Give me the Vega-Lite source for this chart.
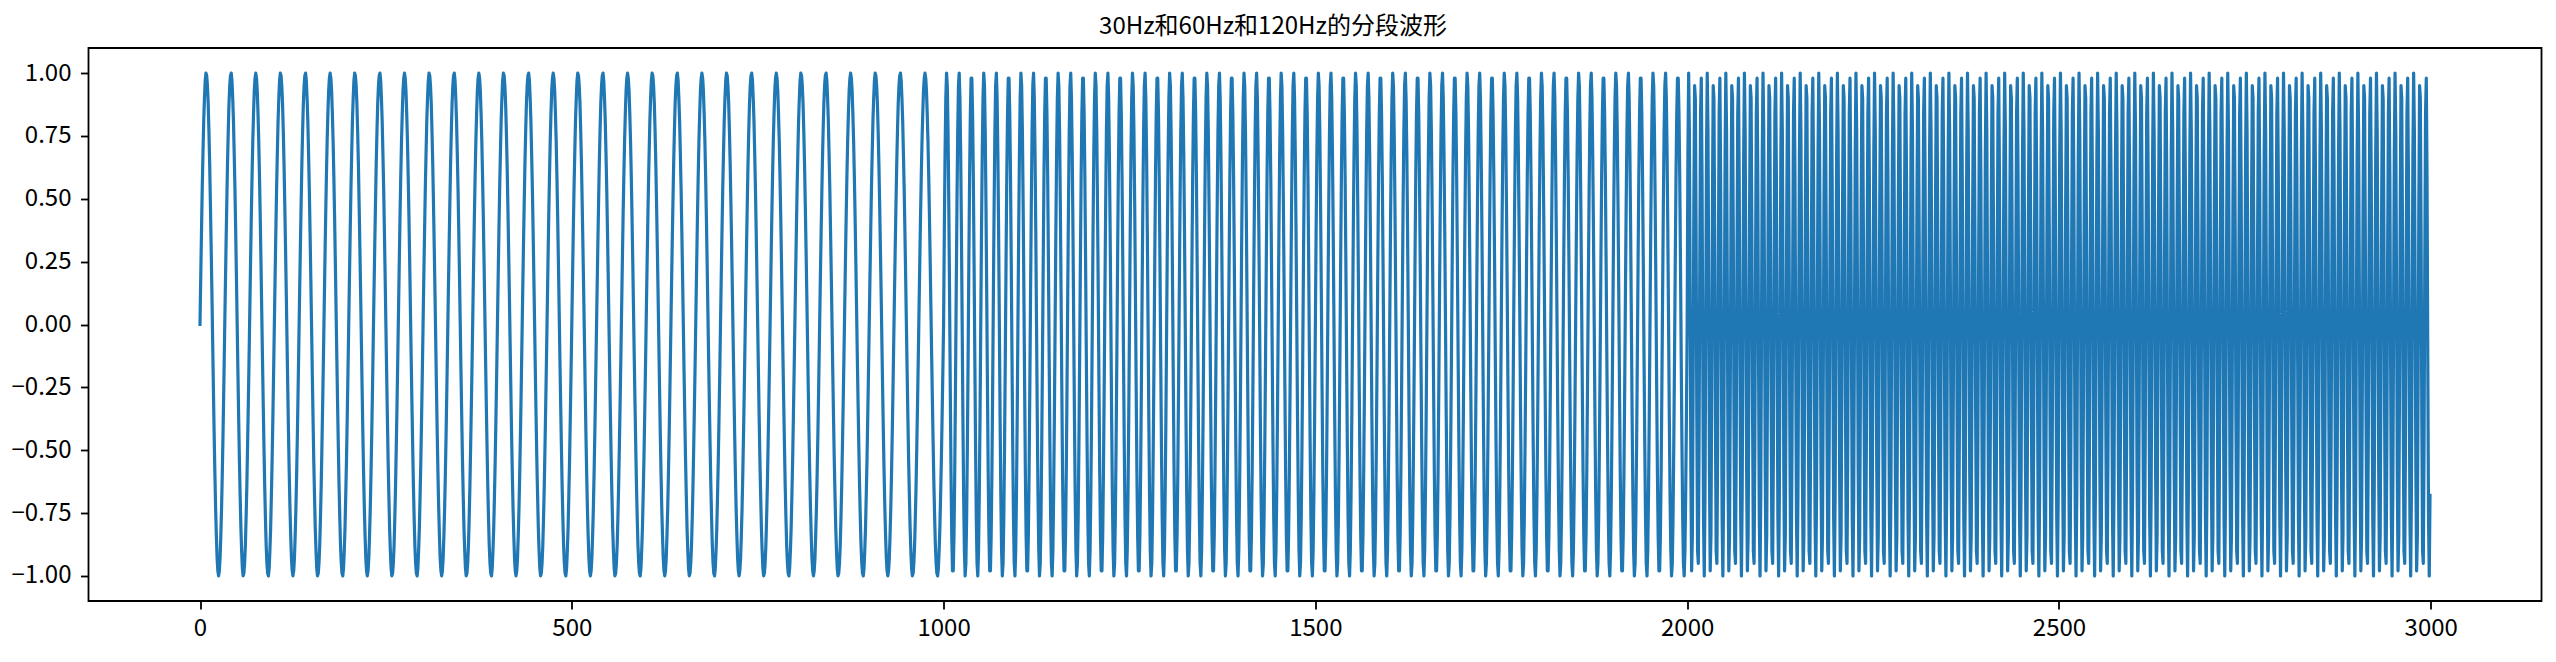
{"$schema":"https://vega.github.io/schema/vega-lite/v6.json","autosize":"none","width":2453,"height":553,"padding":{"left":88.5,"top":48,"right":14.5,"bottom":61},"background":"white","config":{"view":{"stroke":"#000","strokeWidth":1.8},"font":"Noto Sans CJK SC"},"title":{"text":"30Hz和60Hz和120Hz的分段波形","font":"Noto Sans CJK SC","fontSize":24,"fontWeight":"normal","color":"#000","anchor":"middle","frame":"group","baseline":"alphabetic","offset":-10,"dx":-42},"data":{"values":[
{"x":0,"y":0},{"x":1,"y":0.19},{"x":2,"y":0.37},{"x":3,"y":0.54},{"x":4,"y":0.68},{"x":5,"y":0.81},{"x":6,"y":0.9},{"x":7,"y":0.97},{"x":8,"y":1},{"x":9,"y":0.99},{"x":10,"y":0.95},{"x":11,"y":0.88},{"x":12,"y":0.77},{"x":13,"y":0.64},{"x":14,"y":0.48},{"x":15,"y":0.31},{"x":16,"y":0.13},{"x":17,"y":-0.06},{"x":18,"y":-0.25},{"x":19,"y":-0.43},{"x":20,"y":-0.59},{"x":21,"y":-0.73},{"x":22,"y":-0.84},{"x":23,"y":-0.93},{"x":24,"y":-0.98},{"x":25,"y":-1},{"x":26,"y":-0.98},{"x":27,"y":-0.93},{"x":28,"y":-0.84},{"x":29,"y":-0.73},{"x":30,"y":-0.59},{"x":31,"y":-0.43},{"x":32,"y":-0.25},{"x":33,"y":-0.06},{"x":34,"y":0.13},{"x":35,"y":0.31},{"x":36,"y":0.48},{"x":37,"y":0.64},{"x":38,"y":0.77},{"x":39,"y":0.88},{"x":40,"y":0.95},{"x":41,"y":0.99},{"x":42,"y":1},{"x":43,"y":0.97},{"x":44,"y":0.9},{"x":45,"y":0.81},{"x":46,"y":0.68},{"x":47,"y":0.54},{"x":48,"y":0.37},{"x":49,"y":0.19},{"x":50,"y":0},{"x":51,"y":-0.19},{"x":52,"y":-0.37},{"x":53,"y":-0.54},{"x":54,"y":-0.68},{"x":55,"y":-0.81},{"x":56,"y":-0.9},{"x":57,"y":-0.97},{"x":58,"y":-1},{"x":59,"y":-0.99},{"x":60,"y":-0.95},{"x":61,"y":-0.88},{"x":62,"y":-0.77},{"x":63,"y":-0.64},{"x":64,"y":-0.48},{"x":65,"y":-0.31},{"x":66,"y":-0.13},{"x":67,"y":0.06},{"x":68,"y":0.25},{"x":69,"y":0.43},{"x":70,"y":0.59},{"x":71,"y":0.73},{"x":72,"y":0.84},{"x":73,"y":0.93},{"x":74,"y":0.98},{"x":75,"y":1},{"x":76,"y":0.98},{"x":77,"y":0.93},{"x":78,"y":0.84},{"x":79,"y":0.73},{"x":80,"y":0.59},{"x":81,"y":0.43},{"x":82,"y":0.25},{"x":83,"y":0.06},{"x":84,"y":-0.13},{"x":85,"y":-0.31},{"x":86,"y":-0.48},{"x":87,"y":-0.64},{"x":88,"y":-0.77},{"x":89,"y":-0.88},{"x":90,"y":-0.95},{"x":91,"y":-0.99},{"x":92,"y":-1},{"x":93,"y":-0.97},{"x":94,"y":-0.9},{"x":95,"y":-0.81},{"x":96,"y":-0.68},{"x":97,"y":-0.54},{"x":98,"y":-0.37},{"x":99,"y":-0.19},
{"x":100,"y":0},{"x":101,"y":0.19},{"x":102,"y":0.37},{"x":103,"y":0.54},{"x":104,"y":0.68},{"x":105,"y":0.81},{"x":106,"y":0.9},{"x":107,"y":0.97},{"x":108,"y":1},{"x":109,"y":0.99},{"x":110,"y":0.95},{"x":111,"y":0.88},{"x":112,"y":0.77},{"x":113,"y":0.64},{"x":114,"y":0.48},{"x":115,"y":0.31},{"x":116,"y":0.13},{"x":117,"y":-0.06},{"x":118,"y":-0.25},{"x":119,"y":-0.43},{"x":120,"y":-0.59},{"x":121,"y":-0.73},{"x":122,"y":-0.84},{"x":123,"y":-0.93},{"x":124,"y":-0.98},{"x":125,"y":-1},{"x":126,"y":-0.98},{"x":127,"y":-0.93},{"x":128,"y":-0.84},{"x":129,"y":-0.73},{"x":130,"y":-0.59},{"x":131,"y":-0.43},{"x":132,"y":-0.25},{"x":133,"y":-0.06},{"x":134,"y":0.13},{"x":135,"y":0.31},{"x":136,"y":0.48},{"x":137,"y":0.64},{"x":138,"y":0.77},{"x":139,"y":0.88},{"x":140,"y":0.95},{"x":141,"y":0.99},{"x":142,"y":1},{"x":143,"y":0.97},{"x":144,"y":0.9},{"x":145,"y":0.81},{"x":146,"y":0.68},{"x":147,"y":0.54},{"x":148,"y":0.37},{"x":149,"y":0.19},{"x":150,"y":0},{"x":151,"y":-0.19},{"x":152,"y":-0.37},{"x":153,"y":-0.54},{"x":154,"y":-0.68},{"x":155,"y":-0.81},{"x":156,"y":-0.9},{"x":157,"y":-0.97},{"x":158,"y":-1},{"x":159,"y":-0.99},{"x":160,"y":-0.95},{"x":161,"y":-0.88},{"x":162,"y":-0.77},{"x":163,"y":-0.64},{"x":164,"y":-0.48},{"x":165,"y":-0.31},{"x":166,"y":-0.13},{"x":167,"y":0.06},{"x":168,"y":0.25},{"x":169,"y":0.43},{"x":170,"y":0.59},{"x":171,"y":0.73},{"x":172,"y":0.84},{"x":173,"y":0.93},{"x":174,"y":0.98},{"x":175,"y":1},{"x":176,"y":0.98},{"x":177,"y":0.93},{"x":178,"y":0.84},{"x":179,"y":0.73},{"x":180,"y":0.59},{"x":181,"y":0.43},{"x":182,"y":0.25},{"x":183,"y":0.06},{"x":184,"y":-0.13},{"x":185,"y":-0.31},{"x":186,"y":-0.48},{"x":187,"y":-0.64},{"x":188,"y":-0.77},{"x":189,"y":-0.88},{"x":190,"y":-0.95},{"x":191,"y":-0.99},{"x":192,"y":-1},{"x":193,"y":-0.97},{"x":194,"y":-0.9},{"x":195,"y":-0.81},{"x":196,"y":-0.68},{"x":197,"y":-0.54},{"x":198,"y":-0.37},{"x":199,"y":-0.19},
{"x":200,"y":0},{"x":201,"y":0.19},{"x":202,"y":0.37},{"x":203,"y":0.54},{"x":204,"y":0.68},{"x":205,"y":0.81},{"x":206,"y":0.9},{"x":207,"y":0.97},{"x":208,"y":1},{"x":209,"y":0.99},{"x":210,"y":0.95},{"x":211,"y":0.88},{"x":212,"y":0.77},{"x":213,"y":0.64},{"x":214,"y":0.48},{"x":215,"y":0.31},{"x":216,"y":0.13},{"x":217,"y":-0.06},{"x":218,"y":-0.25},{"x":219,"y":-0.43},{"x":220,"y":-0.59},{"x":221,"y":-0.73},{"x":222,"y":-0.84},{"x":223,"y":-0.93},{"x":224,"y":-0.98},{"x":225,"y":-1},{"x":226,"y":-0.98},{"x":227,"y":-0.93},{"x":228,"y":-0.84},{"x":229,"y":-0.73},{"x":230,"y":-0.59},{"x":231,"y":-0.43},{"x":232,"y":-0.25},{"x":233,"y":-0.06},{"x":234,"y":0.13},{"x":235,"y":0.31},{"x":236,"y":0.48},{"x":237,"y":0.64},{"x":238,"y":0.77},{"x":239,"y":0.88},{"x":240,"y":0.95},{"x":241,"y":0.99},{"x":242,"y":1},{"x":243,"y":0.97},{"x":244,"y":0.9},{"x":245,"y":0.81},{"x":246,"y":0.68},{"x":247,"y":0.54},{"x":248,"y":0.37},{"x":249,"y":0.19},{"x":250,"y":0},{"x":251,"y":-0.19},{"x":252,"y":-0.37},{"x":253,"y":-0.54},{"x":254,"y":-0.68},{"x":255,"y":-0.81},{"x":256,"y":-0.9},{"x":257,"y":-0.97},{"x":258,"y":-1},{"x":259,"y":-0.99},{"x":260,"y":-0.95},{"x":261,"y":-0.88},{"x":262,"y":-0.77},{"x":263,"y":-0.64},{"x":264,"y":-0.48},{"x":265,"y":-0.31},{"x":266,"y":-0.13},{"x":267,"y":0.06},{"x":268,"y":0.25},{"x":269,"y":0.43},{"x":270,"y":0.59},{"x":271,"y":0.73},{"x":272,"y":0.84},{"x":273,"y":0.93},{"x":274,"y":0.98},{"x":275,"y":1},{"x":276,"y":0.98},{"x":277,"y":0.93},{"x":278,"y":0.84},{"x":279,"y":0.73},{"x":280,"y":0.59},{"x":281,"y":0.43},{"x":282,"y":0.25},{"x":283,"y":0.06},{"x":284,"y":-0.13},{"x":285,"y":-0.31},{"x":286,"y":-0.48},{"x":287,"y":-0.64},{"x":288,"y":-0.77},{"x":289,"y":-0.88},{"x":290,"y":-0.95},{"x":291,"y":-0.99},{"x":292,"y":-1},{"x":293,"y":-0.97},{"x":294,"y":-0.9},{"x":295,"y":-0.81},{"x":296,"y":-0.68},{"x":297,"y":-0.54},{"x":298,"y":-0.37},{"x":299,"y":-0.19},
{"x":300,"y":0},{"x":301,"y":0.19},{"x":302,"y":0.37},{"x":303,"y":0.54},{"x":304,"y":0.68},{"x":305,"y":0.81},{"x":306,"y":0.9},{"x":307,"y":0.97},{"x":308,"y":1},{"x":309,"y":0.99},{"x":310,"y":0.95},{"x":311,"y":0.88},{"x":312,"y":0.77},{"x":313,"y":0.64},{"x":314,"y":0.48},{"x":315,"y":0.31},{"x":316,"y":0.13},{"x":317,"y":-0.06},{"x":318,"y":-0.25},{"x":319,"y":-0.43},{"x":320,"y":-0.59},{"x":321,"y":-0.73},{"x":322,"y":-0.84},{"x":323,"y":-0.93},{"x":324,"y":-0.98},{"x":325,"y":-1},{"x":326,"y":-0.98},{"x":327,"y":-0.93},{"x":328,"y":-0.84},{"x":329,"y":-0.73},{"x":330,"y":-0.59},{"x":331,"y":-0.43},{"x":332,"y":-0.25},{"x":333,"y":-0.06},{"x":334,"y":0.13},{"x":335,"y":0.31},{"x":336,"y":0.48},{"x":337,"y":0.64},{"x":338,"y":0.77},{"x":339,"y":0.88},{"x":340,"y":0.95},{"x":341,"y":0.99},{"x":342,"y":1},{"x":343,"y":0.97},{"x":344,"y":0.9},{"x":345,"y":0.81},{"x":346,"y":0.68},{"x":347,"y":0.54},{"x":348,"y":0.37},{"x":349,"y":0.19},{"x":350,"y":0},{"x":351,"y":-0.19},{"x":352,"y":-0.37},{"x":353,"y":-0.54},{"x":354,"y":-0.68},{"x":355,"y":-0.81},{"x":356,"y":-0.9},{"x":357,"y":-0.97},{"x":358,"y":-1},{"x":359,"y":-0.99},{"x":360,"y":-0.95},{"x":361,"y":-0.88},{"x":362,"y":-0.77},{"x":363,"y":-0.64},{"x":364,"y":-0.48},{"x":365,"y":-0.31},{"x":366,"y":-0.13},{"x":367,"y":0.06},{"x":368,"y":0.25},{"x":369,"y":0.43},{"x":370,"y":0.59},{"x":371,"y":0.73},{"x":372,"y":0.84},{"x":373,"y":0.93},{"x":374,"y":0.98},{"x":375,"y":1},{"x":376,"y":0.98},{"x":377,"y":0.93},{"x":378,"y":0.84},{"x":379,"y":0.73},{"x":380,"y":0.59},{"x":381,"y":0.43},{"x":382,"y":0.25},{"x":383,"y":0.06},{"x":384,"y":-0.13},{"x":385,"y":-0.31},{"x":386,"y":-0.48},{"x":387,"y":-0.64},{"x":388,"y":-0.77},{"x":389,"y":-0.88},{"x":390,"y":-0.95},{"x":391,"y":-0.99},{"x":392,"y":-1},{"x":393,"y":-0.97},{"x":394,"y":-0.9},{"x":395,"y":-0.81},{"x":396,"y":-0.68},{"x":397,"y":-0.54},{"x":398,"y":-0.37},{"x":399,"y":-0.19},
{"x":400,"y":0},{"x":401,"y":0.19},{"x":402,"y":0.37},{"x":403,"y":0.54},{"x":404,"y":0.68},{"x":405,"y":0.81},{"x":406,"y":0.9},{"x":407,"y":0.97},{"x":408,"y":1},{"x":409,"y":0.99},{"x":410,"y":0.95},{"x":411,"y":0.88},{"x":412,"y":0.77},{"x":413,"y":0.64},{"x":414,"y":0.48},{"x":415,"y":0.31},{"x":416,"y":0.13},{"x":417,"y":-0.06},{"x":418,"y":-0.25},{"x":419,"y":-0.43},{"x":420,"y":-0.59},{"x":421,"y":-0.73},{"x":422,"y":-0.84},{"x":423,"y":-0.93},{"x":424,"y":-0.98},{"x":425,"y":-1},{"x":426,"y":-0.98},{"x":427,"y":-0.93},{"x":428,"y":-0.84},{"x":429,"y":-0.73},{"x":430,"y":-0.59},{"x":431,"y":-0.43},{"x":432,"y":-0.25},{"x":433,"y":-0.06},{"x":434,"y":0.13},{"x":435,"y":0.31},{"x":436,"y":0.48},{"x":437,"y":0.64},{"x":438,"y":0.77},{"x":439,"y":0.88},{"x":440,"y":0.95},{"x":441,"y":0.99},{"x":442,"y":1},{"x":443,"y":0.97},{"x":444,"y":0.9},{"x":445,"y":0.81},{"x":446,"y":0.68},{"x":447,"y":0.54},{"x":448,"y":0.37},{"x":449,"y":0.19},{"x":450,"y":0},{"x":451,"y":-0.19},{"x":452,"y":-0.37},{"x":453,"y":-0.54},{"x":454,"y":-0.68},{"x":455,"y":-0.81},{"x":456,"y":-0.9},{"x":457,"y":-0.97},{"x":458,"y":-1},{"x":459,"y":-0.99},{"x":460,"y":-0.95},{"x":461,"y":-0.88},{"x":462,"y":-0.77},{"x":463,"y":-0.64},{"x":464,"y":-0.48},{"x":465,"y":-0.31},{"x":466,"y":-0.13},{"x":467,"y":0.06},{"x":468,"y":0.25},{"x":469,"y":0.43},{"x":470,"y":0.59},{"x":471,"y":0.73},{"x":472,"y":0.84},{"x":473,"y":0.93},{"x":474,"y":0.98},{"x":475,"y":1},{"x":476,"y":0.98},{"x":477,"y":0.93},{"x":478,"y":0.84},{"x":479,"y":0.73},{"x":480,"y":0.59},{"x":481,"y":0.43},{"x":482,"y":0.25},{"x":483,"y":0.06},{"x":484,"y":-0.13},{"x":485,"y":-0.31},{"x":486,"y":-0.48},{"x":487,"y":-0.64},{"x":488,"y":-0.77},{"x":489,"y":-0.88},{"x":490,"y":-0.95},{"x":491,"y":-0.99},{"x":492,"y":-1},{"x":493,"y":-0.97},{"x":494,"y":-0.9},{"x":495,"y":-0.81},{"x":496,"y":-0.68},{"x":497,"y":-0.54},{"x":498,"y":-0.37},{"x":499,"y":-0.19},
{"x":500,"y":0},{"x":501,"y":0.19},{"x":502,"y":0.37},{"x":503,"y":0.54},{"x":504,"y":0.68},{"x":505,"y":0.81},{"x":506,"y":0.9},{"x":507,"y":0.97},{"x":508,"y":1},{"x":509,"y":0.99},{"x":510,"y":0.95},{"x":511,"y":0.88},{"x":512,"y":0.77},{"x":513,"y":0.64},{"x":514,"y":0.48},{"x":515,"y":0.31},{"x":516,"y":0.13},{"x":517,"y":-0.06},{"x":518,"y":-0.25},{"x":519,"y":-0.43},{"x":520,"y":-0.59},{"x":521,"y":-0.73},{"x":522,"y":-0.84},{"x":523,"y":-0.93},{"x":524,"y":-0.98},{"x":525,"y":-1},{"x":526,"y":-0.98},{"x":527,"y":-0.93},{"x":528,"y":-0.84},{"x":529,"y":-0.73},{"x":530,"y":-0.59},{"x":531,"y":-0.43},{"x":532,"y":-0.25},{"x":533,"y":-0.06},{"x":534,"y":0.13},{"x":535,"y":0.31},{"x":536,"y":0.48},{"x":537,"y":0.64},{"x":538,"y":0.77},{"x":539,"y":0.88},{"x":540,"y":0.95},{"x":541,"y":0.99},{"x":542,"y":1},{"x":543,"y":0.97},{"x":544,"y":0.9},{"x":545,"y":0.81},{"x":546,"y":0.68},{"x":547,"y":0.54},{"x":548,"y":0.37},{"x":549,"y":0.19},{"x":550,"y":0},{"x":551,"y":-0.19},{"x":552,"y":-0.37},{"x":553,"y":-0.54},{"x":554,"y":-0.68},{"x":555,"y":-0.81},{"x":556,"y":-0.9},{"x":557,"y":-0.97},{"x":558,"y":-1},{"x":559,"y":-0.99},{"x":560,"y":-0.95},{"x":561,"y":-0.88},{"x":562,"y":-0.77},{"x":563,"y":-0.64},{"x":564,"y":-0.48},{"x":565,"y":-0.31},{"x":566,"y":-0.13},{"x":567,"y":0.06},{"x":568,"y":0.25},{"x":569,"y":0.43},{"x":570,"y":0.59},{"x":571,"y":0.73},{"x":572,"y":0.84},{"x":573,"y":0.93},{"x":574,"y":0.98},{"x":575,"y":1},{"x":576,"y":0.98},{"x":577,"y":0.93},{"x":578,"y":0.84},{"x":579,"y":0.73},{"x":580,"y":0.59},{"x":581,"y":0.43},{"x":582,"y":0.25},{"x":583,"y":0.06},{"x":584,"y":-0.13},{"x":585,"y":-0.31},{"x":586,"y":-0.48},{"x":587,"y":-0.64},{"x":588,"y":-0.77},{"x":589,"y":-0.88},{"x":590,"y":-0.95},{"x":591,"y":-0.99},{"x":592,"y":-1},{"x":593,"y":-0.97},{"x":594,"y":-0.9},{"x":595,"y":-0.81},{"x":596,"y":-0.68},{"x":597,"y":-0.54},{"x":598,"y":-0.37},{"x":599,"y":-0.19},
{"x":600,"y":0},{"x":601,"y":0.19},{"x":602,"y":0.37},{"x":603,"y":0.54},{"x":604,"y":0.68},{"x":605,"y":0.81},{"x":606,"y":0.9},{"x":607,"y":0.97},{"x":608,"y":1},{"x":609,"y":0.99},{"x":610,"y":0.95},{"x":611,"y":0.88},{"x":612,"y":0.77},{"x":613,"y":0.64},{"x":614,"y":0.48},{"x":615,"y":0.31},{"x":616,"y":0.13},{"x":617,"y":-0.06},{"x":618,"y":-0.25},{"x":619,"y":-0.43},{"x":620,"y":-0.59},{"x":621,"y":-0.73},{"x":622,"y":-0.84},{"x":623,"y":-0.93},{"x":624,"y":-0.98},{"x":625,"y":-1},{"x":626,"y":-0.98},{"x":627,"y":-0.93},{"x":628,"y":-0.84},{"x":629,"y":-0.73},{"x":630,"y":-0.59},{"x":631,"y":-0.43},{"x":632,"y":-0.25},{"x":633,"y":-0.06},{"x":634,"y":0.13},{"x":635,"y":0.31},{"x":636,"y":0.48},{"x":637,"y":0.64},{"x":638,"y":0.77},{"x":639,"y":0.88},{"x":640,"y":0.95},{"x":641,"y":0.99},{"x":642,"y":1},{"x":643,"y":0.97},{"x":644,"y":0.9},{"x":645,"y":0.81},{"x":646,"y":0.68},{"x":647,"y":0.54},{"x":648,"y":0.37},{"x":649,"y":0.19},{"x":650,"y":0},{"x":651,"y":-0.19},{"x":652,"y":-0.37},{"x":653,"y":-0.54},{"x":654,"y":-0.68},{"x":655,"y":-0.81},{"x":656,"y":-0.9},{"x":657,"y":-0.97},{"x":658,"y":-1},{"x":659,"y":-0.99},{"x":660,"y":-0.95},{"x":661,"y":-0.88},{"x":662,"y":-0.77},{"x":663,"y":-0.64},{"x":664,"y":-0.48},{"x":665,"y":-0.31},{"x":666,"y":-0.13},{"x":667,"y":0.06},{"x":668,"y":0.25},{"x":669,"y":0.43},{"x":670,"y":0.59},{"x":671,"y":0.73},{"x":672,"y":0.84},{"x":673,"y":0.93},{"x":674,"y":0.98},{"x":675,"y":1},{"x":676,"y":0.98},{"x":677,"y":0.93},{"x":678,"y":0.84},{"x":679,"y":0.73},{"x":680,"y":0.59},{"x":681,"y":0.43},{"x":682,"y":0.25},{"x":683,"y":0.06},{"x":684,"y":-0.13},{"x":685,"y":-0.31},{"x":686,"y":-0.48},{"x":687,"y":-0.64},{"x":688,"y":-0.77},{"x":689,"y":-0.88},{"x":690,"y":-0.95},{"x":691,"y":-0.99},{"x":692,"y":-1},{"x":693,"y":-0.97},{"x":694,"y":-0.9},{"x":695,"y":-0.81},{"x":696,"y":-0.68},{"x":697,"y":-0.54},{"x":698,"y":-0.37},{"x":699,"y":-0.19},
{"x":700,"y":0},{"x":701,"y":0.19},{"x":702,"y":0.37},{"x":703,"y":0.54},{"x":704,"y":0.68},{"x":705,"y":0.81},{"x":706,"y":0.9},{"x":707,"y":0.97},{"x":708,"y":1},{"x":709,"y":0.99},{"x":710,"y":0.95},{"x":711,"y":0.88},{"x":712,"y":0.77},{"x":713,"y":0.64},{"x":714,"y":0.48},{"x":715,"y":0.31},{"x":716,"y":0.13},{"x":717,"y":-0.06},{"x":718,"y":-0.25},{"x":719,"y":-0.43},{"x":720,"y":-0.59},{"x":721,"y":-0.73},{"x":722,"y":-0.84},{"x":723,"y":-0.93},{"x":724,"y":-0.98},{"x":725,"y":-1},{"x":726,"y":-0.98},{"x":727,"y":-0.93},{"x":728,"y":-0.84},{"x":729,"y":-0.73},{"x":730,"y":-0.59},{"x":731,"y":-0.43},{"x":732,"y":-0.25},{"x":733,"y":-0.06},{"x":734,"y":0.13},{"x":735,"y":0.31},{"x":736,"y":0.48},{"x":737,"y":0.64},{"x":738,"y":0.77},{"x":739,"y":0.88},{"x":740,"y":0.95},{"x":741,"y":0.99},{"x":742,"y":1},{"x":743,"y":0.97},{"x":744,"y":0.9},{"x":745,"y":0.81},{"x":746,"y":0.68},{"x":747,"y":0.54},{"x":748,"y":0.37},{"x":749,"y":0.19},{"x":750,"y":0},{"x":751,"y":-0.19},{"x":752,"y":-0.37},{"x":753,"y":-0.54},{"x":754,"y":-0.68},{"x":755,"y":-0.81},{"x":756,"y":-0.9},{"x":757,"y":-0.97},{"x":758,"y":-1},{"x":759,"y":-0.99},{"x":760,"y":-0.95},{"x":761,"y":-0.88},{"x":762,"y":-0.77},{"x":763,"y":-0.64},{"x":764,"y":-0.48},{"x":765,"y":-0.31},{"x":766,"y":-0.13},{"x":767,"y":0.06},{"x":768,"y":0.25},{"x":769,"y":0.43},{"x":770,"y":0.59},{"x":771,"y":0.73},{"x":772,"y":0.84},{"x":773,"y":0.93},{"x":774,"y":0.98},{"x":775,"y":1},{"x":776,"y":0.98},{"x":777,"y":0.93},{"x":778,"y":0.84},{"x":779,"y":0.73},{"x":780,"y":0.59},{"x":781,"y":0.43},{"x":782,"y":0.25},{"x":783,"y":0.06},{"x":784,"y":-0.13},{"x":785,"y":-0.31},{"x":786,"y":-0.48},{"x":787,"y":-0.64},{"x":788,"y":-0.77},{"x":789,"y":-0.88},{"x":790,"y":-0.95},{"x":791,"y":-0.99},{"x":792,"y":-1},{"x":793,"y":-0.97},{"x":794,"y":-0.9},{"x":795,"y":-0.81},{"x":796,"y":-0.68},{"x":797,"y":-0.54},{"x":798,"y":-0.37},{"x":799,"y":-0.19},
{"x":800,"y":0},{"x":801,"y":0.19},{"x":802,"y":0.37},{"x":803,"y":0.54},{"x":804,"y":0.68},{"x":805,"y":0.81},{"x":806,"y":0.9},{"x":807,"y":0.97},{"x":808,"y":1},{"x":809,"y":0.99},{"x":810,"y":0.95},{"x":811,"y":0.88},{"x":812,"y":0.77},{"x":813,"y":0.64},{"x":814,"y":0.48},{"x":815,"y":0.31},{"x":816,"y":0.13},{"x":817,"y":-0.06},{"x":818,"y":-0.25},{"x":819,"y":-0.43},{"x":820,"y":-0.59},{"x":821,"y":-0.73},{"x":822,"y":-0.84},{"x":823,"y":-0.93},{"x":824,"y":-0.98},{"x":825,"y":-1},{"x":826,"y":-0.98},{"x":827,"y":-0.93},{"x":828,"y":-0.84},{"x":829,"y":-0.73},{"x":830,"y":-0.59},{"x":831,"y":-0.43},{"x":832,"y":-0.25},{"x":833,"y":-0.06},{"x":834,"y":0.13},{"x":835,"y":0.31},{"x":836,"y":0.48},{"x":837,"y":0.64},{"x":838,"y":0.77},{"x":839,"y":0.88},{"x":840,"y":0.95},{"x":841,"y":0.99},{"x":842,"y":1},{"x":843,"y":0.97},{"x":844,"y":0.9},{"x":845,"y":0.81},{"x":846,"y":0.68},{"x":847,"y":0.54},{"x":848,"y":0.37},{"x":849,"y":0.19},{"x":850,"y":0},{"x":851,"y":-0.19},{"x":852,"y":-0.37},{"x":853,"y":-0.54},{"x":854,"y":-0.68},{"x":855,"y":-0.81},{"x":856,"y":-0.9},{"x":857,"y":-0.97},{"x":858,"y":-1},{"x":859,"y":-0.99},{"x":860,"y":-0.95},{"x":861,"y":-0.88},{"x":862,"y":-0.77},{"x":863,"y":-0.64},{"x":864,"y":-0.48},{"x":865,"y":-0.31},{"x":866,"y":-0.13},{"x":867,"y":0.06},{"x":868,"y":0.25},{"x":869,"y":0.43},{"x":870,"y":0.59},{"x":871,"y":0.73},{"x":872,"y":0.84},{"x":873,"y":0.93},{"x":874,"y":0.98},{"x":875,"y":1},{"x":876,"y":0.98},{"x":877,"y":0.93},{"x":878,"y":0.84},{"x":879,"y":0.73},{"x":880,"y":0.59},{"x":881,"y":0.43},{"x":882,"y":0.25},{"x":883,"y":0.06},{"x":884,"y":-0.13},{"x":885,"y":-0.31},{"x":886,"y":-0.48},{"x":887,"y":-0.64},{"x":888,"y":-0.77},{"x":889,"y":-0.88},{"x":890,"y":-0.95},{"x":891,"y":-0.99},{"x":892,"y":-1},{"x":893,"y":-0.97},{"x":894,"y":-0.9},{"x":895,"y":-0.81},{"x":896,"y":-0.68},{"x":897,"y":-0.54},{"x":898,"y":-0.37},{"x":899,"y":-0.19},
{"x":900,"y":0},{"x":901,"y":0.19},{"x":902,"y":0.37},{"x":903,"y":0.54},{"x":904,"y":0.68},{"x":905,"y":0.81},{"x":906,"y":0.9},{"x":907,"y":0.97},{"x":908,"y":1},{"x":909,"y":0.99},{"x":910,"y":0.95},{"x":911,"y":0.88},{"x":912,"y":0.77},{"x":913,"y":0.64},{"x":914,"y":0.48},{"x":915,"y":0.31},{"x":916,"y":0.13},{"x":917,"y":-0.06},{"x":918,"y":-0.25},{"x":919,"y":-0.43},{"x":920,"y":-0.59},{"x":921,"y":-0.73},{"x":922,"y":-0.84},{"x":923,"y":-0.93},{"x":924,"y":-0.98},{"x":925,"y":-1},{"x":926,"y":-0.98},{"x":927,"y":-0.93},{"x":928,"y":-0.84},{"x":929,"y":-0.73},{"x":930,"y":-0.59},{"x":931,"y":-0.43},{"x":932,"y":-0.25},{"x":933,"y":-0.06},{"x":934,"y":0.13},{"x":935,"y":0.31},{"x":936,"y":0.48},{"x":937,"y":0.64},{"x":938,"y":0.77},{"x":939,"y":0.88},{"x":940,"y":0.95},{"x":941,"y":0.99},{"x":942,"y":1},{"x":943,"y":0.97},{"x":944,"y":0.9},{"x":945,"y":0.81},{"x":946,"y":0.68},{"x":947,"y":0.54},{"x":948,"y":0.37},{"x":949,"y":0.19},{"x":950,"y":0},{"x":951,"y":-0.19},{"x":952,"y":-0.37},{"x":953,"y":-0.54},{"x":954,"y":-0.68},{"x":955,"y":-0.81},{"x":956,"y":-0.9},{"x":957,"y":-0.97},{"x":958,"y":-1},{"x":959,"y":-0.99},{"x":960,"y":-0.95},{"x":961,"y":-0.88},{"x":962,"y":-0.77},{"x":963,"y":-0.64},{"x":964,"y":-0.48},{"x":965,"y":-0.31},{"x":966,"y":-0.13},{"x":967,"y":0.06},{"x":968,"y":0.25},{"x":969,"y":0.43},{"x":970,"y":0.59},{"x":971,"y":0.73},{"x":972,"y":0.84},{"x":973,"y":0.93},{"x":974,"y":0.98},{"x":975,"y":1},{"x":976,"y":0.98},{"x":977,"y":0.93},{"x":978,"y":0.84},{"x":979,"y":0.73},{"x":980,"y":0.59},{"x":981,"y":0.43},{"x":982,"y":0.25},{"x":983,"y":0.06},{"x":984,"y":-0.13},{"x":985,"y":-0.31},{"x":986,"y":-0.48},{"x":987,"y":-0.64},{"x":988,"y":-0.77},{"x":989,"y":-0.88},{"x":990,"y":-0.95},{"x":991,"y":-0.99},{"x":992,"y":-1},{"x":993,"y":-0.97},{"x":994,"y":-0.9},{"x":995,"y":-0.81},{"x":996,"y":-0.68},{"x":997,"y":-0.54},{"x":998,"y":-0.37},{"x":999,"y":-0.19},
{"x":1000,"y":0},{"x":1001,"y":0.37},{"x":1002,"y":0.68},{"x":1003,"y":0.9},{"x":1004,"y":1},{"x":1005,"y":0.95},{"x":1006,"y":0.77},{"x":1007,"y":0.48},{"x":1008,"y":0.13},{"x":1009,"y":-0.25},{"x":1010,"y":-0.59},{"x":1011,"y":-0.84},{"x":1012,"y":-0.98},{"x":1013,"y":-0.98},{"x":1014,"y":-0.84},{"x":1015,"y":-0.59},{"x":1016,"y":-0.25},{"x":1017,"y":0.13},{"x":1018,"y":0.48},{"x":1019,"y":0.77},{"x":1020,"y":0.95},{"x":1021,"y":1},{"x":1022,"y":0.9},{"x":1023,"y":0.68},{"x":1024,"y":0.37},{"x":1025,"y":0},{"x":1026,"y":-0.37},{"x":1027,"y":-0.68},{"x":1028,"y":-0.9},{"x":1029,"y":-1},{"x":1030,"y":-0.95},{"x":1031,"y":-0.77},{"x":1032,"y":-0.48},{"x":1033,"y":-0.13},{"x":1034,"y":0.25},{"x":1035,"y":0.59},{"x":1036,"y":0.84},{"x":1037,"y":0.98},{"x":1038,"y":0.98},{"x":1039,"y":0.84},{"x":1040,"y":0.59},{"x":1041,"y":0.25},{"x":1042,"y":-0.13},{"x":1043,"y":-0.48},{"x":1044,"y":-0.77},{"x":1045,"y":-0.95},{"x":1046,"y":-1},{"x":1047,"y":-0.9},{"x":1048,"y":-0.68},{"x":1049,"y":-0.37},
{"x":1050,"y":0},{"x":1051,"y":0.37},{"x":1052,"y":0.68},{"x":1053,"y":0.9},{"x":1054,"y":1},{"x":1055,"y":0.95},{"x":1056,"y":0.77},{"x":1057,"y":0.48},{"x":1058,"y":0.13},{"x":1059,"y":-0.25},{"x":1060,"y":-0.59},{"x":1061,"y":-0.84},{"x":1062,"y":-0.98},{"x":1063,"y":-0.98},{"x":1064,"y":-0.84},{"x":1065,"y":-0.59},{"x":1066,"y":-0.25},{"x":1067,"y":0.13},{"x":1068,"y":0.48},{"x":1069,"y":0.77},{"x":1070,"y":0.95},{"x":1071,"y":1},{"x":1072,"y":0.9},{"x":1073,"y":0.68},{"x":1074,"y":0.37},{"x":1075,"y":0},{"x":1076,"y":-0.37},{"x":1077,"y":-0.68},{"x":1078,"y":-0.9},{"x":1079,"y":-1},{"x":1080,"y":-0.95},{"x":1081,"y":-0.77},{"x":1082,"y":-0.48},{"x":1083,"y":-0.13},{"x":1084,"y":0.25},{"x":1085,"y":0.59},{"x":1086,"y":0.84},{"x":1087,"y":0.98},{"x":1088,"y":0.98},{"x":1089,"y":0.84},{"x":1090,"y":0.59},{"x":1091,"y":0.25},{"x":1092,"y":-0.13},{"x":1093,"y":-0.48},{"x":1094,"y":-0.77},{"x":1095,"y":-0.95},{"x":1096,"y":-1},{"x":1097,"y":-0.9},{"x":1098,"y":-0.68},{"x":1099,"y":-0.37},
{"x":1100,"y":0},{"x":1101,"y":0.37},{"x":1102,"y":0.68},{"x":1103,"y":0.9},{"x":1104,"y":1},{"x":1105,"y":0.95},{"x":1106,"y":0.77},{"x":1107,"y":0.48},{"x":1108,"y":0.13},{"x":1109,"y":-0.25},{"x":1110,"y":-0.59},{"x":1111,"y":-0.84},{"x":1112,"y":-0.98},{"x":1113,"y":-0.98},{"x":1114,"y":-0.84},{"x":1115,"y":-0.59},{"x":1116,"y":-0.25},{"x":1117,"y":0.13},{"x":1118,"y":0.48},{"x":1119,"y":0.77},{"x":1120,"y":0.95},{"x":1121,"y":1},{"x":1122,"y":0.9},{"x":1123,"y":0.68},{"x":1124,"y":0.37},{"x":1125,"y":0},{"x":1126,"y":-0.37},{"x":1127,"y":-0.68},{"x":1128,"y":-0.9},{"x":1129,"y":-1},{"x":1130,"y":-0.95},{"x":1131,"y":-0.77},{"x":1132,"y":-0.48},{"x":1133,"y":-0.13},{"x":1134,"y":0.25},{"x":1135,"y":0.59},{"x":1136,"y":0.84},{"x":1137,"y":0.98},{"x":1138,"y":0.98},{"x":1139,"y":0.84},{"x":1140,"y":0.59},{"x":1141,"y":0.25},{"x":1142,"y":-0.13},{"x":1143,"y":-0.48},{"x":1144,"y":-0.77},{"x":1145,"y":-0.95},{"x":1146,"y":-1},{"x":1147,"y":-0.9},{"x":1148,"y":-0.68},{"x":1149,"y":-0.37},
{"x":1150,"y":0},{"x":1151,"y":0.37},{"x":1152,"y":0.68},{"x":1153,"y":0.9},{"x":1154,"y":1},{"x":1155,"y":0.95},{"x":1156,"y":0.77},{"x":1157,"y":0.48},{"x":1158,"y":0.13},{"x":1159,"y":-0.25},{"x":1160,"y":-0.59},{"x":1161,"y":-0.84},{"x":1162,"y":-0.98},{"x":1163,"y":-0.98},{"x":1164,"y":-0.84},{"x":1165,"y":-0.59},{"x":1166,"y":-0.25},{"x":1167,"y":0.13},{"x":1168,"y":0.48},{"x":1169,"y":0.77},{"x":1170,"y":0.95},{"x":1171,"y":1},{"x":1172,"y":0.9},{"x":1173,"y":0.68},{"x":1174,"y":0.37},{"x":1175,"y":0},{"x":1176,"y":-0.37},{"x":1177,"y":-0.68},{"x":1178,"y":-0.9},{"x":1179,"y":-1},{"x":1180,"y":-0.95},{"x":1181,"y":-0.77},{"x":1182,"y":-0.48},{"x":1183,"y":-0.13},{"x":1184,"y":0.25},{"x":1185,"y":0.59},{"x":1186,"y":0.84},{"x":1187,"y":0.98},{"x":1188,"y":0.98},{"x":1189,"y":0.84},{"x":1190,"y":0.59},{"x":1191,"y":0.25},{"x":1192,"y":-0.13},{"x":1193,"y":-0.48},{"x":1194,"y":-0.77},{"x":1195,"y":-0.95},{"x":1196,"y":-1},{"x":1197,"y":-0.9},{"x":1198,"y":-0.68},{"x":1199,"y":-0.37},
{"x":1200,"y":0},{"x":1201,"y":0.37},{"x":1202,"y":0.68},{"x":1203,"y":0.9},{"x":1204,"y":1},{"x":1205,"y":0.95},{"x":1206,"y":0.77},{"x":1207,"y":0.48},{"x":1208,"y":0.13},{"x":1209,"y":-0.25},{"x":1210,"y":-0.59},{"x":1211,"y":-0.84},{"x":1212,"y":-0.98},{"x":1213,"y":-0.98},{"x":1214,"y":-0.84},{"x":1215,"y":-0.59},{"x":1216,"y":-0.25},{"x":1217,"y":0.13},{"x":1218,"y":0.48},{"x":1219,"y":0.77},{"x":1220,"y":0.95},{"x":1221,"y":1},{"x":1222,"y":0.9},{"x":1223,"y":0.68},{"x":1224,"y":0.37},{"x":1225,"y":0},{"x":1226,"y":-0.37},{"x":1227,"y":-0.68},{"x":1228,"y":-0.9},{"x":1229,"y":-1},{"x":1230,"y":-0.95},{"x":1231,"y":-0.77},{"x":1232,"y":-0.48},{"x":1233,"y":-0.13},{"x":1234,"y":0.25},{"x":1235,"y":0.59},{"x":1236,"y":0.84},{"x":1237,"y":0.98},{"x":1238,"y":0.98},{"x":1239,"y":0.84},{"x":1240,"y":0.59},{"x":1241,"y":0.25},{"x":1242,"y":-0.13},{"x":1243,"y":-0.48},{"x":1244,"y":-0.77},{"x":1245,"y":-0.95},{"x":1246,"y":-1},{"x":1247,"y":-0.9},{"x":1248,"y":-0.68},{"x":1249,"y":-0.37},
{"x":1250,"y":0},{"x":1251,"y":0.37},{"x":1252,"y":0.68},{"x":1253,"y":0.9},{"x":1254,"y":1},{"x":1255,"y":0.95},{"x":1256,"y":0.77},{"x":1257,"y":0.48},{"x":1258,"y":0.13},{"x":1259,"y":-0.25},{"x":1260,"y":-0.59},{"x":1261,"y":-0.84},{"x":1262,"y":-0.98},{"x":1263,"y":-0.98},{"x":1264,"y":-0.84},{"x":1265,"y":-0.59},{"x":1266,"y":-0.25},{"x":1267,"y":0.13},{"x":1268,"y":0.48},{"x":1269,"y":0.77},{"x":1270,"y":0.95},{"x":1271,"y":1},{"x":1272,"y":0.9},{"x":1273,"y":0.68},{"x":1274,"y":0.37},{"x":1275,"y":0},{"x":1276,"y":-0.37},{"x":1277,"y":-0.68},{"x":1278,"y":-0.9},{"x":1279,"y":-1},{"x":1280,"y":-0.95},{"x":1281,"y":-0.77},{"x":1282,"y":-0.48},{"x":1283,"y":-0.13},{"x":1284,"y":0.25},{"x":1285,"y":0.59},{"x":1286,"y":0.84},{"x":1287,"y":0.98},{"x":1288,"y":0.98},{"x":1289,"y":0.84},{"x":1290,"y":0.59},{"x":1291,"y":0.25},{"x":1292,"y":-0.13},{"x":1293,"y":-0.48},{"x":1294,"y":-0.77},{"x":1295,"y":-0.95},{"x":1296,"y":-1},{"x":1297,"y":-0.9},{"x":1298,"y":-0.68},{"x":1299,"y":-0.37},
{"x":1300,"y":0},{"x":1301,"y":0.37},{"x":1302,"y":0.68},{"x":1303,"y":0.9},{"x":1304,"y":1},{"x":1305,"y":0.95},{"x":1306,"y":0.77},{"x":1307,"y":0.48},{"x":1308,"y":0.13},{"x":1309,"y":-0.25},{"x":1310,"y":-0.59},{"x":1311,"y":-0.84},{"x":1312,"y":-0.98},{"x":1313,"y":-0.98},{"x":1314,"y":-0.84},{"x":1315,"y":-0.59},{"x":1316,"y":-0.25},{"x":1317,"y":0.13},{"x":1318,"y":0.48},{"x":1319,"y":0.77},{"x":1320,"y":0.95},{"x":1321,"y":1},{"x":1322,"y":0.9},{"x":1323,"y":0.68},{"x":1324,"y":0.37},{"x":1325,"y":0},{"x":1326,"y":-0.37},{"x":1327,"y":-0.68},{"x":1328,"y":-0.9},{"x":1329,"y":-1},{"x":1330,"y":-0.95},{"x":1331,"y":-0.77},{"x":1332,"y":-0.48},{"x":1333,"y":-0.13},{"x":1334,"y":0.25},{"x":1335,"y":0.59},{"x":1336,"y":0.84},{"x":1337,"y":0.98},{"x":1338,"y":0.98},{"x":1339,"y":0.84},{"x":1340,"y":0.59},{"x":1341,"y":0.25},{"x":1342,"y":-0.13},{"x":1343,"y":-0.48},{"x":1344,"y":-0.77},{"x":1345,"y":-0.95},{"x":1346,"y":-1},{"x":1347,"y":-0.9},{"x":1348,"y":-0.68},{"x":1349,"y":-0.37},
{"x":1350,"y":0},{"x":1351,"y":0.37},{"x":1352,"y":0.68},{"x":1353,"y":0.9},{"x":1354,"y":1},{"x":1355,"y":0.95},{"x":1356,"y":0.77},{"x":1357,"y":0.48},{"x":1358,"y":0.13},{"x":1359,"y":-0.25},{"x":1360,"y":-0.59},{"x":1361,"y":-0.84},{"x":1362,"y":-0.98},{"x":1363,"y":-0.98},{"x":1364,"y":-0.84},{"x":1365,"y":-0.59},{"x":1366,"y":-0.25},{"x":1367,"y":0.13},{"x":1368,"y":0.48},{"x":1369,"y":0.77},{"x":1370,"y":0.95},{"x":1371,"y":1},{"x":1372,"y":0.9},{"x":1373,"y":0.68},{"x":1374,"y":0.37},{"x":1375,"y":0},{"x":1376,"y":-0.37},{"x":1377,"y":-0.68},{"x":1378,"y":-0.9},{"x":1379,"y":-1},{"x":1380,"y":-0.95},{"x":1381,"y":-0.77},{"x":1382,"y":-0.48},{"x":1383,"y":-0.13},{"x":1384,"y":0.25},{"x":1385,"y":0.59},{"x":1386,"y":0.84},{"x":1387,"y":0.98},{"x":1388,"y":0.98},{"x":1389,"y":0.84},{"x":1390,"y":0.59},{"x":1391,"y":0.25},{"x":1392,"y":-0.13},{"x":1393,"y":-0.48},{"x":1394,"y":-0.77},{"x":1395,"y":-0.95},{"x":1396,"y":-1},{"x":1397,"y":-0.9},{"x":1398,"y":-0.68},{"x":1399,"y":-0.37},
{"x":1400,"y":0},{"x":1401,"y":0.37},{"x":1402,"y":0.68},{"x":1403,"y":0.9},{"x":1404,"y":1},{"x":1405,"y":0.95},{"x":1406,"y":0.77},{"x":1407,"y":0.48},{"x":1408,"y":0.13},{"x":1409,"y":-0.25},{"x":1410,"y":-0.59},{"x":1411,"y":-0.84},{"x":1412,"y":-0.98},{"x":1413,"y":-0.98},{"x":1414,"y":-0.84},{"x":1415,"y":-0.59},{"x":1416,"y":-0.25},{"x":1417,"y":0.13},{"x":1418,"y":0.48},{"x":1419,"y":0.77},{"x":1420,"y":0.95},{"x":1421,"y":1},{"x":1422,"y":0.9},{"x":1423,"y":0.68},{"x":1424,"y":0.37},{"x":1425,"y":0},{"x":1426,"y":-0.37},{"x":1427,"y":-0.68},{"x":1428,"y":-0.9},{"x":1429,"y":-1},{"x":1430,"y":-0.95},{"x":1431,"y":-0.77},{"x":1432,"y":-0.48},{"x":1433,"y":-0.13},{"x":1434,"y":0.25},{"x":1435,"y":0.59},{"x":1436,"y":0.84},{"x":1437,"y":0.98},{"x":1438,"y":0.98},{"x":1439,"y":0.84},{"x":1440,"y":0.59},{"x":1441,"y":0.25},{"x":1442,"y":-0.13},{"x":1443,"y":-0.48},{"x":1444,"y":-0.77},{"x":1445,"y":-0.95},{"x":1446,"y":-1},{"x":1447,"y":-0.9},{"x":1448,"y":-0.68},{"x":1449,"y":-0.37},
{"x":1450,"y":0},{"x":1451,"y":0.37},{"x":1452,"y":0.68},{"x":1453,"y":0.9},{"x":1454,"y":1},{"x":1455,"y":0.95},{"x":1456,"y":0.77},{"x":1457,"y":0.48},{"x":1458,"y":0.13},{"x":1459,"y":-0.25},{"x":1460,"y":-0.59},{"x":1461,"y":-0.84},{"x":1462,"y":-0.98},{"x":1463,"y":-0.98},{"x":1464,"y":-0.84},{"x":1465,"y":-0.59},{"x":1466,"y":-0.25},{"x":1467,"y":0.13},{"x":1468,"y":0.48},{"x":1469,"y":0.77},{"x":1470,"y":0.95},{"x":1471,"y":1},{"x":1472,"y":0.9},{"x":1473,"y":0.68},{"x":1474,"y":0.37},{"x":1475,"y":0},{"x":1476,"y":-0.37},{"x":1477,"y":-0.68},{"x":1478,"y":-0.9},{"x":1479,"y":-1},{"x":1480,"y":-0.95},{"x":1481,"y":-0.77},{"x":1482,"y":-0.48},{"x":1483,"y":-0.13},{"x":1484,"y":0.25},{"x":1485,"y":0.59},{"x":1486,"y":0.84},{"x":1487,"y":0.98},{"x":1488,"y":0.98},{"x":1489,"y":0.84},{"x":1490,"y":0.59},{"x":1491,"y":0.25},{"x":1492,"y":-0.13},{"x":1493,"y":-0.48},{"x":1494,"y":-0.77},{"x":1495,"y":-0.95},{"x":1496,"y":-1},{"x":1497,"y":-0.9},{"x":1498,"y":-0.68},{"x":1499,"y":-0.37},
{"x":1500,"y":0},{"x":1501,"y":0.37},{"x":1502,"y":0.68},{"x":1503,"y":0.9},{"x":1504,"y":1},{"x":1505,"y":0.95},{"x":1506,"y":0.77},{"x":1507,"y":0.48},{"x":1508,"y":0.13},{"x":1509,"y":-0.25},{"x":1510,"y":-0.59},{"x":1511,"y":-0.84},{"x":1512,"y":-0.98},{"x":1513,"y":-0.98},{"x":1514,"y":-0.84},{"x":1515,"y":-0.59},{"x":1516,"y":-0.25},{"x":1517,"y":0.13},{"x":1518,"y":0.48},{"x":1519,"y":0.77},{"x":1520,"y":0.95},{"x":1521,"y":1},{"x":1522,"y":0.9},{"x":1523,"y":0.68},{"x":1524,"y":0.37},{"x":1525,"y":0},{"x":1526,"y":-0.37},{"x":1527,"y":-0.68},{"x":1528,"y":-0.9},{"x":1529,"y":-1},{"x":1530,"y":-0.95},{"x":1531,"y":-0.77},{"x":1532,"y":-0.48},{"x":1533,"y":-0.13},{"x":1534,"y":0.25},{"x":1535,"y":0.59},{"x":1536,"y":0.84},{"x":1537,"y":0.98},{"x":1538,"y":0.98},{"x":1539,"y":0.84},{"x":1540,"y":0.59},{"x":1541,"y":0.25},{"x":1542,"y":-0.13},{"x":1543,"y":-0.48},{"x":1544,"y":-0.77},{"x":1545,"y":-0.95},{"x":1546,"y":-1},{"x":1547,"y":-0.9},{"x":1548,"y":-0.68},{"x":1549,"y":-0.37},
{"x":1550,"y":0},{"x":1551,"y":0.37},{"x":1552,"y":0.68},{"x":1553,"y":0.9},{"x":1554,"y":1},{"x":1555,"y":0.95},{"x":1556,"y":0.77},{"x":1557,"y":0.48},{"x":1558,"y":0.13},{"x":1559,"y":-0.25},{"x":1560,"y":-0.59},{"x":1561,"y":-0.84},{"x":1562,"y":-0.98},{"x":1563,"y":-0.98},{"x":1564,"y":-0.84},{"x":1565,"y":-0.59},{"x":1566,"y":-0.25},{"x":1567,"y":0.13},{"x":1568,"y":0.48},{"x":1569,"y":0.77},{"x":1570,"y":0.95},{"x":1571,"y":1},{"x":1572,"y":0.9},{"x":1573,"y":0.68},{"x":1574,"y":0.37},{"x":1575,"y":0},{"x":1576,"y":-0.37},{"x":1577,"y":-0.68},{"x":1578,"y":-0.9},{"x":1579,"y":-1},{"x":1580,"y":-0.95},{"x":1581,"y":-0.77},{"x":1582,"y":-0.48},{"x":1583,"y":-0.13},{"x":1584,"y":0.25},{"x":1585,"y":0.59},{"x":1586,"y":0.84},{"x":1587,"y":0.98},{"x":1588,"y":0.98},{"x":1589,"y":0.84},{"x":1590,"y":0.59},{"x":1591,"y":0.25},{"x":1592,"y":-0.13},{"x":1593,"y":-0.48},{"x":1594,"y":-0.77},{"x":1595,"y":-0.95},{"x":1596,"y":-1},{"x":1597,"y":-0.9},{"x":1598,"y":-0.68},{"x":1599,"y":-0.37},
{"x":1600,"y":0},{"x":1601,"y":0.37},{"x":1602,"y":0.68},{"x":1603,"y":0.9},{"x":1604,"y":1},{"x":1605,"y":0.95},{"x":1606,"y":0.77},{"x":1607,"y":0.48},{"x":1608,"y":0.13},{"x":1609,"y":-0.25},{"x":1610,"y":-0.59},{"x":1611,"y":-0.84},{"x":1612,"y":-0.98},{"x":1613,"y":-0.98},{"x":1614,"y":-0.84},{"x":1615,"y":-0.59},{"x":1616,"y":-0.25},{"x":1617,"y":0.13},{"x":1618,"y":0.48},{"x":1619,"y":0.77},{"x":1620,"y":0.95},{"x":1621,"y":1},{"x":1622,"y":0.9},{"x":1623,"y":0.68},{"x":1624,"y":0.37},{"x":1625,"y":0},{"x":1626,"y":-0.37},{"x":1627,"y":-0.68},{"x":1628,"y":-0.9},{"x":1629,"y":-1},{"x":1630,"y":-0.95},{"x":1631,"y":-0.77},{"x":1632,"y":-0.48},{"x":1633,"y":-0.13},{"x":1634,"y":0.25},{"x":1635,"y":0.59},{"x":1636,"y":0.84},{"x":1637,"y":0.98},{"x":1638,"y":0.98},{"x":1639,"y":0.84},{"x":1640,"y":0.59},{"x":1641,"y":0.25},{"x":1642,"y":-0.13},{"x":1643,"y":-0.48},{"x":1644,"y":-0.77},{"x":1645,"y":-0.95},{"x":1646,"y":-1},{"x":1647,"y":-0.9},{"x":1648,"y":-0.68},{"x":1649,"y":-0.37},
{"x":1650,"y":0},{"x":1651,"y":0.37},{"x":1652,"y":0.68},{"x":1653,"y":0.9},{"x":1654,"y":1},{"x":1655,"y":0.95},{"x":1656,"y":0.77},{"x":1657,"y":0.48},{"x":1658,"y":0.13},{"x":1659,"y":-0.25},{"x":1660,"y":-0.59},{"x":1661,"y":-0.84},{"x":1662,"y":-0.98},{"x":1663,"y":-0.98},{"x":1664,"y":-0.84},{"x":1665,"y":-0.59},{"x":1666,"y":-0.25},{"x":1667,"y":0.13},{"x":1668,"y":0.48},{"x":1669,"y":0.77},{"x":1670,"y":0.95},{"x":1671,"y":1},{"x":1672,"y":0.9},{"x":1673,"y":0.68},{"x":1674,"y":0.37},{"x":1675,"y":0},{"x":1676,"y":-0.37},{"x":1677,"y":-0.68},{"x":1678,"y":-0.9},{"x":1679,"y":-1},{"x":1680,"y":-0.95},{"x":1681,"y":-0.77},{"x":1682,"y":-0.48},{"x":1683,"y":-0.13},{"x":1684,"y":0.25},{"x":1685,"y":0.59},{"x":1686,"y":0.84},{"x":1687,"y":0.98},{"x":1688,"y":0.98},{"x":1689,"y":0.84},{"x":1690,"y":0.59},{"x":1691,"y":0.25},{"x":1692,"y":-0.13},{"x":1693,"y":-0.48},{"x":1694,"y":-0.77},{"x":1695,"y":-0.95},{"x":1696,"y":-1},{"x":1697,"y":-0.9},{"x":1698,"y":-0.68},{"x":1699,"y":-0.37},
{"x":1700,"y":0},{"x":1701,"y":0.37},{"x":1702,"y":0.68},{"x":1703,"y":0.9},{"x":1704,"y":1},{"x":1705,"y":0.95},{"x":1706,"y":0.77},{"x":1707,"y":0.48},{"x":1708,"y":0.13},{"x":1709,"y":-0.25},{"x":1710,"y":-0.59},{"x":1711,"y":-0.84},{"x":1712,"y":-0.98},{"x":1713,"y":-0.98},{"x":1714,"y":-0.84},{"x":1715,"y":-0.59},{"x":1716,"y":-0.25},{"x":1717,"y":0.13},{"x":1718,"y":0.48},{"x":1719,"y":0.77},{"x":1720,"y":0.95},{"x":1721,"y":1},{"x":1722,"y":0.9},{"x":1723,"y":0.68},{"x":1724,"y":0.37},{"x":1725,"y":0},{"x":1726,"y":-0.37},{"x":1727,"y":-0.68},{"x":1728,"y":-0.9},{"x":1729,"y":-1},{"x":1730,"y":-0.95},{"x":1731,"y":-0.77},{"x":1732,"y":-0.48},{"x":1733,"y":-0.13},{"x":1734,"y":0.25},{"x":1735,"y":0.59},{"x":1736,"y":0.84},{"x":1737,"y":0.98},{"x":1738,"y":0.98},{"x":1739,"y":0.84},{"x":1740,"y":0.59},{"x":1741,"y":0.25},{"x":1742,"y":-0.13},{"x":1743,"y":-0.48},{"x":1744,"y":-0.77},{"x":1745,"y":-0.95},{"x":1746,"y":-1},{"x":1747,"y":-0.9},{"x":1748,"y":-0.68},{"x":1749,"y":-0.37},
{"x":1750,"y":0},{"x":1751,"y":0.37},{"x":1752,"y":0.68},{"x":1753,"y":0.9},{"x":1754,"y":1},{"x":1755,"y":0.95},{"x":1756,"y":0.77},{"x":1757,"y":0.48},{"x":1758,"y":0.13},{"x":1759,"y":-0.25},{"x":1760,"y":-0.59},{"x":1761,"y":-0.84},{"x":1762,"y":-0.98},{"x":1763,"y":-0.98},{"x":1764,"y":-0.84},{"x":1765,"y":-0.59},{"x":1766,"y":-0.25},{"x":1767,"y":0.13},{"x":1768,"y":0.48},{"x":1769,"y":0.77},{"x":1770,"y":0.95},{"x":1771,"y":1},{"x":1772,"y":0.9},{"x":1773,"y":0.68},{"x":1774,"y":0.37},{"x":1775,"y":0},{"x":1776,"y":-0.37},{"x":1777,"y":-0.68},{"x":1778,"y":-0.9},{"x":1779,"y":-1},{"x":1780,"y":-0.95},{"x":1781,"y":-0.77},{"x":1782,"y":-0.48},{"x":1783,"y":-0.13},{"x":1784,"y":0.25},{"x":1785,"y":0.59},{"x":1786,"y":0.84},{"x":1787,"y":0.98},{"x":1788,"y":0.98},{"x":1789,"y":0.84},{"x":1790,"y":0.59},{"x":1791,"y":0.25},{"x":1792,"y":-0.13},{"x":1793,"y":-0.48},{"x":1794,"y":-0.77},{"x":1795,"y":-0.95},{"x":1796,"y":-1},{"x":1797,"y":-0.9},{"x":1798,"y":-0.68},{"x":1799,"y":-0.37},
{"x":1800,"y":0},{"x":1801,"y":0.37},{"x":1802,"y":0.68},{"x":1803,"y":0.9},{"x":1804,"y":1},{"x":1805,"y":0.95},{"x":1806,"y":0.77},{"x":1807,"y":0.48},{"x":1808,"y":0.13},{"x":1809,"y":-0.25},{"x":1810,"y":-0.59},{"x":1811,"y":-0.84},{"x":1812,"y":-0.98},{"x":1813,"y":-0.98},{"x":1814,"y":-0.84},{"x":1815,"y":-0.59},{"x":1816,"y":-0.25},{"x":1817,"y":0.13},{"x":1818,"y":0.48},{"x":1819,"y":0.77},{"x":1820,"y":0.95},{"x":1821,"y":1},{"x":1822,"y":0.9},{"x":1823,"y":0.68},{"x":1824,"y":0.37},{"x":1825,"y":0},{"x":1826,"y":-0.37},{"x":1827,"y":-0.68},{"x":1828,"y":-0.9},{"x":1829,"y":-1},{"x":1830,"y":-0.95},{"x":1831,"y":-0.77},{"x":1832,"y":-0.48},{"x":1833,"y":-0.13},{"x":1834,"y":0.25},{"x":1835,"y":0.59},{"x":1836,"y":0.84},{"x":1837,"y":0.98},{"x":1838,"y":0.98},{"x":1839,"y":0.84},{"x":1840,"y":0.59},{"x":1841,"y":0.25},{"x":1842,"y":-0.13},{"x":1843,"y":-0.48},{"x":1844,"y":-0.77},{"x":1845,"y":-0.95},{"x":1846,"y":-1},{"x":1847,"y":-0.9},{"x":1848,"y":-0.68},{"x":1849,"y":-0.37},
{"x":1850,"y":0},{"x":1851,"y":0.37},{"x":1852,"y":0.68},{"x":1853,"y":0.9},{"x":1854,"y":1},{"x":1855,"y":0.95},{"x":1856,"y":0.77},{"x":1857,"y":0.48},{"x":1858,"y":0.13},{"x":1859,"y":-0.25},{"x":1860,"y":-0.59},{"x":1861,"y":-0.84},{"x":1862,"y":-0.98},{"x":1863,"y":-0.98},{"x":1864,"y":-0.84},{"x":1865,"y":-0.59},{"x":1866,"y":-0.25},{"x":1867,"y":0.13},{"x":1868,"y":0.48},{"x":1869,"y":0.77},{"x":1870,"y":0.95},{"x":1871,"y":1},{"x":1872,"y":0.9},{"x":1873,"y":0.68},{"x":1874,"y":0.37},{"x":1875,"y":0},{"x":1876,"y":-0.37},{"x":1877,"y":-0.68},{"x":1878,"y":-0.9},{"x":1879,"y":-1},{"x":1880,"y":-0.95},{"x":1881,"y":-0.77},{"x":1882,"y":-0.48},{"x":1883,"y":-0.13},{"x":1884,"y":0.25},{"x":1885,"y":0.59},{"x":1886,"y":0.84},{"x":1887,"y":0.98},{"x":1888,"y":0.98},{"x":1889,"y":0.84},{"x":1890,"y":0.59},{"x":1891,"y":0.25},{"x":1892,"y":-0.13},{"x":1893,"y":-0.48},{"x":1894,"y":-0.77},{"x":1895,"y":-0.95},{"x":1896,"y":-1},{"x":1897,"y":-0.9},{"x":1898,"y":-0.68},{"x":1899,"y":-0.37},
{"x":1900,"y":0},{"x":1901,"y":0.37},{"x":1902,"y":0.68},{"x":1903,"y":0.9},{"x":1904,"y":1},{"x":1905,"y":0.95},{"x":1906,"y":0.77},{"x":1907,"y":0.48},{"x":1908,"y":0.13},{"x":1909,"y":-0.25},{"x":1910,"y":-0.59},{"x":1911,"y":-0.84},{"x":1912,"y":-0.98},{"x":1913,"y":-0.98},{"x":1914,"y":-0.84},{"x":1915,"y":-0.59},{"x":1916,"y":-0.25},{"x":1917,"y":0.13},{"x":1918,"y":0.48},{"x":1919,"y":0.77},{"x":1920,"y":0.95},{"x":1921,"y":1},{"x":1922,"y":0.9},{"x":1923,"y":0.68},{"x":1924,"y":0.37},{"x":1925,"y":0},{"x":1926,"y":-0.37},{"x":1927,"y":-0.68},{"x":1928,"y":-0.9},{"x":1929,"y":-1},{"x":1930,"y":-0.95},{"x":1931,"y":-0.77},{"x":1932,"y":-0.48},{"x":1933,"y":-0.13},{"x":1934,"y":0.25},{"x":1935,"y":0.59},{"x":1936,"y":0.84},{"x":1937,"y":0.98},{"x":1938,"y":0.98},{"x":1939,"y":0.84},{"x":1940,"y":0.59},{"x":1941,"y":0.25},{"x":1942,"y":-0.13},{"x":1943,"y":-0.48},{"x":1944,"y":-0.77},{"x":1945,"y":-0.95},{"x":1946,"y":-1},{"x":1947,"y":-0.9},{"x":1948,"y":-0.68},{"x":1949,"y":-0.37},
{"x":1950,"y":0},{"x":1951,"y":0.37},{"x":1952,"y":0.68},{"x":1953,"y":0.9},{"x":1954,"y":1},{"x":1955,"y":0.95},{"x":1956,"y":0.77},{"x":1957,"y":0.48},{"x":1958,"y":0.13},{"x":1959,"y":-0.25},{"x":1960,"y":-0.59},{"x":1961,"y":-0.84},{"x":1962,"y":-0.98},{"x":1963,"y":-0.98},{"x":1964,"y":-0.84},{"x":1965,"y":-0.59},{"x":1966,"y":-0.25},{"x":1967,"y":0.13},{"x":1968,"y":0.48},{"x":1969,"y":0.77},{"x":1970,"y":0.95},{"x":1971,"y":1},{"x":1972,"y":0.9},{"x":1973,"y":0.68},{"x":1974,"y":0.37},{"x":1975,"y":0},{"x":1976,"y":-0.37},{"x":1977,"y":-0.68},{"x":1978,"y":-0.9},{"x":1979,"y":-1},{"x":1980,"y":-0.95},{"x":1981,"y":-0.77},{"x":1982,"y":-0.48},{"x":1983,"y":-0.13},{"x":1984,"y":0.25},{"x":1985,"y":0.59},{"x":1986,"y":0.84},{"x":1987,"y":0.98},{"x":1988,"y":0.98},{"x":1989,"y":0.84},{"x":1990,"y":0.59},{"x":1991,"y":0.25},{"x":1992,"y":-0.13},{"x":1993,"y":-0.48},{"x":1994,"y":-0.77},{"x":1995,"y":-0.95},{"x":1996,"y":-1},{"x":1997,"y":-0.9},{"x":1998,"y":-0.68},{"x":1999,"y":-0.37},
{"x":2000,"y":0},{"x":2001,"y":0.68},{"x":2002,"y":1},{"x":2003,"y":0.77},{"x":2004,"y":0.13},{"x":2005,"y":-0.59},{"x":2006,"y":-0.98},{"x":2007,"y":-0.84},{"x":2008,"y":-0.25},{"x":2009,"y":0.48},{"x":2010,"y":0.95},{"x":2011,"y":0.9},{"x":2012,"y":0.37},{"x":2013,"y":-0.37},{"x":2014,"y":-0.9},{"x":2015,"y":-0.95},{"x":2016,"y":-0.48},{"x":2017,"y":0.25},{"x":2018,"y":0.84},{"x":2019,"y":0.98},{"x":2020,"y":0.59},{"x":2021,"y":-0.13},{"x":2022,"y":-0.77},{"x":2023,"y":-1},{"x":2024,"y":-0.68},
{"x":2025,"y":0},{"x":2026,"y":0.68},{"x":2027,"y":1},{"x":2028,"y":0.77},{"x":2029,"y":0.13},{"x":2030,"y":-0.59},{"x":2031,"y":-0.98},{"x":2032,"y":-0.84},{"x":2033,"y":-0.25},{"x":2034,"y":0.48},{"x":2035,"y":0.95},{"x":2036,"y":0.9},{"x":2037,"y":0.37},{"x":2038,"y":-0.37},{"x":2039,"y":-0.9},{"x":2040,"y":-0.95},{"x":2041,"y":-0.48},{"x":2042,"y":0.25},{"x":2043,"y":0.84},{"x":2044,"y":0.98},{"x":2045,"y":0.59},{"x":2046,"y":-0.13},{"x":2047,"y":-0.77},{"x":2048,"y":-1},{"x":2049,"y":-0.68},
{"x":2050,"y":0},{"x":2051,"y":0.68},{"x":2052,"y":1},{"x":2053,"y":0.77},{"x":2054,"y":0.13},{"x":2055,"y":-0.59},{"x":2056,"y":-0.98},{"x":2057,"y":-0.84},{"x":2058,"y":-0.25},{"x":2059,"y":0.48},{"x":2060,"y":0.95},{"x":2061,"y":0.9},{"x":2062,"y":0.37},{"x":2063,"y":-0.37},{"x":2064,"y":-0.9},{"x":2065,"y":-0.95},{"x":2066,"y":-0.48},{"x":2067,"y":0.25},{"x":2068,"y":0.84},{"x":2069,"y":0.98},{"x":2070,"y":0.59},{"x":2071,"y":-0.13},{"x":2072,"y":-0.77},{"x":2073,"y":-1},{"x":2074,"y":-0.68},
{"x":2075,"y":0},{"x":2076,"y":0.68},{"x":2077,"y":1},{"x":2078,"y":0.77},{"x":2079,"y":0.13},{"x":2080,"y":-0.59},{"x":2081,"y":-0.98},{"x":2082,"y":-0.84},{"x":2083,"y":-0.25},{"x":2084,"y":0.48},{"x":2085,"y":0.95},{"x":2086,"y":0.9},{"x":2087,"y":0.37},{"x":2088,"y":-0.37},{"x":2089,"y":-0.9},{"x":2090,"y":-0.95},{"x":2091,"y":-0.48},{"x":2092,"y":0.25},{"x":2093,"y":0.84},{"x":2094,"y":0.98},{"x":2095,"y":0.59},{"x":2096,"y":-0.13},{"x":2097,"y":-0.77},{"x":2098,"y":-1},{"x":2099,"y":-0.68},
{"x":2100,"y":0},{"x":2101,"y":0.68},{"x":2102,"y":1},{"x":2103,"y":0.77},{"x":2104,"y":0.13},{"x":2105,"y":-0.59},{"x":2106,"y":-0.98},{"x":2107,"y":-0.84},{"x":2108,"y":-0.25},{"x":2109,"y":0.48},{"x":2110,"y":0.95},{"x":2111,"y":0.9},{"x":2112,"y":0.37},{"x":2113,"y":-0.37},{"x":2114,"y":-0.9},{"x":2115,"y":-0.95},{"x":2116,"y":-0.48},{"x":2117,"y":0.25},{"x":2118,"y":0.84},{"x":2119,"y":0.98},{"x":2120,"y":0.59},{"x":2121,"y":-0.13},{"x":2122,"y":-0.77},{"x":2123,"y":-1},{"x":2124,"y":-0.68},
{"x":2125,"y":0},{"x":2126,"y":0.68},{"x":2127,"y":1},{"x":2128,"y":0.77},{"x":2129,"y":0.13},{"x":2130,"y":-0.59},{"x":2131,"y":-0.98},{"x":2132,"y":-0.84},{"x":2133,"y":-0.25},{"x":2134,"y":0.48},{"x":2135,"y":0.95},{"x":2136,"y":0.9},{"x":2137,"y":0.37},{"x":2138,"y":-0.37},{"x":2139,"y":-0.9},{"x":2140,"y":-0.95},{"x":2141,"y":-0.48},{"x":2142,"y":0.25},{"x":2143,"y":0.84},{"x":2144,"y":0.98},{"x":2145,"y":0.59},{"x":2146,"y":-0.13},{"x":2147,"y":-0.77},{"x":2148,"y":-1},{"x":2149,"y":-0.68},
{"x":2150,"y":0},{"x":2151,"y":0.68},{"x":2152,"y":1},{"x":2153,"y":0.77},{"x":2154,"y":0.13},{"x":2155,"y":-0.59},{"x":2156,"y":-0.98},{"x":2157,"y":-0.84},{"x":2158,"y":-0.25},{"x":2159,"y":0.48},{"x":2160,"y":0.95},{"x":2161,"y":0.9},{"x":2162,"y":0.37},{"x":2163,"y":-0.37},{"x":2164,"y":-0.9},{"x":2165,"y":-0.95},{"x":2166,"y":-0.48},{"x":2167,"y":0.25},{"x":2168,"y":0.84},{"x":2169,"y":0.98},{"x":2170,"y":0.59},{"x":2171,"y":-0.13},{"x":2172,"y":-0.77},{"x":2173,"y":-1},{"x":2174,"y":-0.68},
{"x":2175,"y":0},{"x":2176,"y":0.68},{"x":2177,"y":1},{"x":2178,"y":0.77},{"x":2179,"y":0.13},{"x":2180,"y":-0.59},{"x":2181,"y":-0.98},{"x":2182,"y":-0.84},{"x":2183,"y":-0.25},{"x":2184,"y":0.48},{"x":2185,"y":0.95},{"x":2186,"y":0.9},{"x":2187,"y":0.37},{"x":2188,"y":-0.37},{"x":2189,"y":-0.9},{"x":2190,"y":-0.95},{"x":2191,"y":-0.48},{"x":2192,"y":0.25},{"x":2193,"y":0.84},{"x":2194,"y":0.98},{"x":2195,"y":0.59},{"x":2196,"y":-0.13},{"x":2197,"y":-0.77},{"x":2198,"y":-1},{"x":2199,"y":-0.68},
{"x":2200,"y":0},{"x":2201,"y":0.68},{"x":2202,"y":1},{"x":2203,"y":0.77},{"x":2204,"y":0.13},{"x":2205,"y":-0.59},{"x":2206,"y":-0.98},{"x":2207,"y":-0.84},{"x":2208,"y":-0.25},{"x":2209,"y":0.48},{"x":2210,"y":0.95},{"x":2211,"y":0.9},{"x":2212,"y":0.37},{"x":2213,"y":-0.37},{"x":2214,"y":-0.9},{"x":2215,"y":-0.95},{"x":2216,"y":-0.48},{"x":2217,"y":0.25},{"x":2218,"y":0.84},{"x":2219,"y":0.98},{"x":2220,"y":0.59},{"x":2221,"y":-0.13},{"x":2222,"y":-0.77},{"x":2223,"y":-1},{"x":2224,"y":-0.68},
{"x":2225,"y":0},{"x":2226,"y":0.68},{"x":2227,"y":1},{"x":2228,"y":0.77},{"x":2229,"y":0.13},{"x":2230,"y":-0.59},{"x":2231,"y":-0.98},{"x":2232,"y":-0.84},{"x":2233,"y":-0.25},{"x":2234,"y":0.48},{"x":2235,"y":0.95},{"x":2236,"y":0.9},{"x":2237,"y":0.37},{"x":2238,"y":-0.37},{"x":2239,"y":-0.9},{"x":2240,"y":-0.95},{"x":2241,"y":-0.48},{"x":2242,"y":0.25},{"x":2243,"y":0.84},{"x":2244,"y":0.98},{"x":2245,"y":0.59},{"x":2246,"y":-0.13},{"x":2247,"y":-0.77},{"x":2248,"y":-1},{"x":2249,"y":-0.68},
{"x":2250,"y":0},{"x":2251,"y":0.68},{"x":2252,"y":1},{"x":2253,"y":0.77},{"x":2254,"y":0.13},{"x":2255,"y":-0.59},{"x":2256,"y":-0.98},{"x":2257,"y":-0.84},{"x":2258,"y":-0.25},{"x":2259,"y":0.48},{"x":2260,"y":0.95},{"x":2261,"y":0.9},{"x":2262,"y":0.37},{"x":2263,"y":-0.37},{"x":2264,"y":-0.9},{"x":2265,"y":-0.95},{"x":2266,"y":-0.48},{"x":2267,"y":0.25},{"x":2268,"y":0.84},{"x":2269,"y":0.98},{"x":2270,"y":0.59},{"x":2271,"y":-0.13},{"x":2272,"y":-0.77},{"x":2273,"y":-1},{"x":2274,"y":-0.68},
{"x":2275,"y":0},{"x":2276,"y":0.68},{"x":2277,"y":1},{"x":2278,"y":0.77},{"x":2279,"y":0.13},{"x":2280,"y":-0.59},{"x":2281,"y":-0.98},{"x":2282,"y":-0.84},{"x":2283,"y":-0.25},{"x":2284,"y":0.48},{"x":2285,"y":0.95},{"x":2286,"y":0.9},{"x":2287,"y":0.37},{"x":2288,"y":-0.37},{"x":2289,"y":-0.9},{"x":2290,"y":-0.95},{"x":2291,"y":-0.48},{"x":2292,"y":0.25},{"x":2293,"y":0.84},{"x":2294,"y":0.98},{"x":2295,"y":0.59},{"x":2296,"y":-0.13},{"x":2297,"y":-0.77},{"x":2298,"y":-1},{"x":2299,"y":-0.68},
{"x":2300,"y":0},{"x":2301,"y":0.68},{"x":2302,"y":1},{"x":2303,"y":0.77},{"x":2304,"y":0.13},{"x":2305,"y":-0.59},{"x":2306,"y":-0.98},{"x":2307,"y":-0.84},{"x":2308,"y":-0.25},{"x":2309,"y":0.48},{"x":2310,"y":0.95},{"x":2311,"y":0.9},{"x":2312,"y":0.37},{"x":2313,"y":-0.37},{"x":2314,"y":-0.9},{"x":2315,"y":-0.95},{"x":2316,"y":-0.48},{"x":2317,"y":0.25},{"x":2318,"y":0.84},{"x":2319,"y":0.98},{"x":2320,"y":0.59},{"x":2321,"y":-0.13},{"x":2322,"y":-0.77},{"x":2323,"y":-1},{"x":2324,"y":-0.68},
{"x":2325,"y":0},{"x":2326,"y":0.68},{"x":2327,"y":1},{"x":2328,"y":0.77},{"x":2329,"y":0.13},{"x":2330,"y":-0.59},{"x":2331,"y":-0.98},{"x":2332,"y":-0.84},{"x":2333,"y":-0.25},{"x":2334,"y":0.48},{"x":2335,"y":0.95},{"x":2336,"y":0.9},{"x":2337,"y":0.37},{"x":2338,"y":-0.37},{"x":2339,"y":-0.9},{"x":2340,"y":-0.95},{"x":2341,"y":-0.48},{"x":2342,"y":0.25},{"x":2343,"y":0.84},{"x":2344,"y":0.98},{"x":2345,"y":0.59},{"x":2346,"y":-0.13},{"x":2347,"y":-0.77},{"x":2348,"y":-1},{"x":2349,"y":-0.68},
{"x":2350,"y":0},{"x":2351,"y":0.68},{"x":2352,"y":1},{"x":2353,"y":0.77},{"x":2354,"y":0.13},{"x":2355,"y":-0.59},{"x":2356,"y":-0.98},{"x":2357,"y":-0.84},{"x":2358,"y":-0.25},{"x":2359,"y":0.48},{"x":2360,"y":0.95},{"x":2361,"y":0.9},{"x":2362,"y":0.37},{"x":2363,"y":-0.37},{"x":2364,"y":-0.9},{"x":2365,"y":-0.95},{"x":2366,"y":-0.48},{"x":2367,"y":0.25},{"x":2368,"y":0.84},{"x":2369,"y":0.98},{"x":2370,"y":0.59},{"x":2371,"y":-0.13},{"x":2372,"y":-0.77},{"x":2373,"y":-1},{"x":2374,"y":-0.68},
{"x":2375,"y":0},{"x":2376,"y":0.68},{"x":2377,"y":1},{"x":2378,"y":0.77},{"x":2379,"y":0.13},{"x":2380,"y":-0.59},{"x":2381,"y":-0.98},{"x":2382,"y":-0.84},{"x":2383,"y":-0.25},{"x":2384,"y":0.48},{"x":2385,"y":0.95},{"x":2386,"y":0.9},{"x":2387,"y":0.37},{"x":2388,"y":-0.37},{"x":2389,"y":-0.9},{"x":2390,"y":-0.95},{"x":2391,"y":-0.48},{"x":2392,"y":0.25},{"x":2393,"y":0.84},{"x":2394,"y":0.98},{"x":2395,"y":0.59},{"x":2396,"y":-0.13},{"x":2397,"y":-0.77},{"x":2398,"y":-1},{"x":2399,"y":-0.68},
{"x":2400,"y":0},{"x":2401,"y":0.68},{"x":2402,"y":1},{"x":2403,"y":0.77},{"x":2404,"y":0.13},{"x":2405,"y":-0.59},{"x":2406,"y":-0.98},{"x":2407,"y":-0.84},{"x":2408,"y":-0.25},{"x":2409,"y":0.48},{"x":2410,"y":0.95},{"x":2411,"y":0.9},{"x":2412,"y":0.37},{"x":2413,"y":-0.37},{"x":2414,"y":-0.9},{"x":2415,"y":-0.95},{"x":2416,"y":-0.48},{"x":2417,"y":0.25},{"x":2418,"y":0.84},{"x":2419,"y":0.98},{"x":2420,"y":0.59},{"x":2421,"y":-0.13},{"x":2422,"y":-0.77},{"x":2423,"y":-1},{"x":2424,"y":-0.68},
{"x":2425,"y":0},{"x":2426,"y":0.68},{"x":2427,"y":1},{"x":2428,"y":0.77},{"x":2429,"y":0.13},{"x":2430,"y":-0.59},{"x":2431,"y":-0.98},{"x":2432,"y":-0.84},{"x":2433,"y":-0.25},{"x":2434,"y":0.48},{"x":2435,"y":0.95},{"x":2436,"y":0.9},{"x":2437,"y":0.37},{"x":2438,"y":-0.37},{"x":2439,"y":-0.9},{"x":2440,"y":-0.95},{"x":2441,"y":-0.48},{"x":2442,"y":0.25},{"x":2443,"y":0.84},{"x":2444,"y":0.98},{"x":2445,"y":0.59},{"x":2446,"y":-0.13},{"x":2447,"y":-0.77},{"x":2448,"y":-1},{"x":2449,"y":-0.68},
{"x":2450,"y":0},{"x":2451,"y":0.68},{"x":2452,"y":1},{"x":2453,"y":0.77},{"x":2454,"y":0.13},{"x":2455,"y":-0.59},{"x":2456,"y":-0.98},{"x":2457,"y":-0.84},{"x":2458,"y":-0.25},{"x":2459,"y":0.48},{"x":2460,"y":0.95},{"x":2461,"y":0.9},{"x":2462,"y":0.37},{"x":2463,"y":-0.37},{"x":2464,"y":-0.9},{"x":2465,"y":-0.95},{"x":2466,"y":-0.48},{"x":2467,"y":0.25},{"x":2468,"y":0.84},{"x":2469,"y":0.98},{"x":2470,"y":0.59},{"x":2471,"y":-0.13},{"x":2472,"y":-0.77},{"x":2473,"y":-1},{"x":2474,"y":-0.68},
{"x":2475,"y":0},{"x":2476,"y":0.68},{"x":2477,"y":1},{"x":2478,"y":0.77},{"x":2479,"y":0.13},{"x":2480,"y":-0.59},{"x":2481,"y":-0.98},{"x":2482,"y":-0.84},{"x":2483,"y":-0.25},{"x":2484,"y":0.48},{"x":2485,"y":0.95},{"x":2486,"y":0.9},{"x":2487,"y":0.37},{"x":2488,"y":-0.37},{"x":2489,"y":-0.9},{"x":2490,"y":-0.95},{"x":2491,"y":-0.48},{"x":2492,"y":0.25},{"x":2493,"y":0.84},{"x":2494,"y":0.98},{"x":2495,"y":0.59},{"x":2496,"y":-0.13},{"x":2497,"y":-0.77},{"x":2498,"y":-1},{"x":2499,"y":-0.68},
{"x":2500,"y":0},{"x":2501,"y":0.68},{"x":2502,"y":1},{"x":2503,"y":0.77},{"x":2504,"y":0.13},{"x":2505,"y":-0.59},{"x":2506,"y":-0.98},{"x":2507,"y":-0.84},{"x":2508,"y":-0.25},{"x":2509,"y":0.48},{"x":2510,"y":0.95},{"x":2511,"y":0.9},{"x":2512,"y":0.37},{"x":2513,"y":-0.37},{"x":2514,"y":-0.9},{"x":2515,"y":-0.95},{"x":2516,"y":-0.48},{"x":2517,"y":0.25},{"x":2518,"y":0.84},{"x":2519,"y":0.98},{"x":2520,"y":0.59},{"x":2521,"y":-0.13},{"x":2522,"y":-0.77},{"x":2523,"y":-1},{"x":2524,"y":-0.68},
{"x":2525,"y":0},{"x":2526,"y":0.68},{"x":2527,"y":1},{"x":2528,"y":0.77},{"x":2529,"y":0.13},{"x":2530,"y":-0.59},{"x":2531,"y":-0.98},{"x":2532,"y":-0.84},{"x":2533,"y":-0.25},{"x":2534,"y":0.48},{"x":2535,"y":0.95},{"x":2536,"y":0.9},{"x":2537,"y":0.37},{"x":2538,"y":-0.37},{"x":2539,"y":-0.9},{"x":2540,"y":-0.95},{"x":2541,"y":-0.48},{"x":2542,"y":0.25},{"x":2543,"y":0.84},{"x":2544,"y":0.98},{"x":2545,"y":0.59},{"x":2546,"y":-0.13},{"x":2547,"y":-0.77},{"x":2548,"y":-1},{"x":2549,"y":-0.68},
{"x":2550,"y":0},{"x":2551,"y":0.68},{"x":2552,"y":1},{"x":2553,"y":0.77},{"x":2554,"y":0.13},{"x":2555,"y":-0.59},{"x":2556,"y":-0.98},{"x":2557,"y":-0.84},{"x":2558,"y":-0.25},{"x":2559,"y":0.48},{"x":2560,"y":0.95},{"x":2561,"y":0.9},{"x":2562,"y":0.37},{"x":2563,"y":-0.37},{"x":2564,"y":-0.9},{"x":2565,"y":-0.95},{"x":2566,"y":-0.48},{"x":2567,"y":0.25},{"x":2568,"y":0.84},{"x":2569,"y":0.98},{"x":2570,"y":0.59},{"x":2571,"y":-0.13},{"x":2572,"y":-0.77},{"x":2573,"y":-1},{"x":2574,"y":-0.68},
{"x":2575,"y":0},{"x":2576,"y":0.68},{"x":2577,"y":1},{"x":2578,"y":0.77},{"x":2579,"y":0.13},{"x":2580,"y":-0.59},{"x":2581,"y":-0.98},{"x":2582,"y":-0.84},{"x":2583,"y":-0.25},{"x":2584,"y":0.48},{"x":2585,"y":0.95},{"x":2586,"y":0.9},{"x":2587,"y":0.37},{"x":2588,"y":-0.37},{"x":2589,"y":-0.9},{"x":2590,"y":-0.95},{"x":2591,"y":-0.48},{"x":2592,"y":0.25},{"x":2593,"y":0.84},{"x":2594,"y":0.98},{"x":2595,"y":0.59},{"x":2596,"y":-0.13},{"x":2597,"y":-0.77},{"x":2598,"y":-1},{"x":2599,"y":-0.68},
{"x":2600,"y":0},{"x":2601,"y":0.68},{"x":2602,"y":1},{"x":2603,"y":0.77},{"x":2604,"y":0.13},{"x":2605,"y":-0.59},{"x":2606,"y":-0.98},{"x":2607,"y":-0.84},{"x":2608,"y":-0.25},{"x":2609,"y":0.48},{"x":2610,"y":0.95},{"x":2611,"y":0.9},{"x":2612,"y":0.37},{"x":2613,"y":-0.37},{"x":2614,"y":-0.9},{"x":2615,"y":-0.95},{"x":2616,"y":-0.48},{"x":2617,"y":0.25},{"x":2618,"y":0.84},{"x":2619,"y":0.98},{"x":2620,"y":0.59},{"x":2621,"y":-0.13},{"x":2622,"y":-0.77},{"x":2623,"y":-1},{"x":2624,"y":-0.68},
{"x":2625,"y":0},{"x":2626,"y":0.68},{"x":2627,"y":1},{"x":2628,"y":0.77},{"x":2629,"y":0.13},{"x":2630,"y":-0.59},{"x":2631,"y":-0.98},{"x":2632,"y":-0.84},{"x":2633,"y":-0.25},{"x":2634,"y":0.48},{"x":2635,"y":0.95},{"x":2636,"y":0.9},{"x":2637,"y":0.37},{"x":2638,"y":-0.37},{"x":2639,"y":-0.9},{"x":2640,"y":-0.95},{"x":2641,"y":-0.48},{"x":2642,"y":0.25},{"x":2643,"y":0.84},{"x":2644,"y":0.98},{"x":2645,"y":0.59},{"x":2646,"y":-0.13},{"x":2647,"y":-0.77},{"x":2648,"y":-1},{"x":2649,"y":-0.68},
{"x":2650,"y":0},{"x":2651,"y":0.68},{"x":2652,"y":1},{"x":2653,"y":0.77},{"x":2654,"y":0.13},{"x":2655,"y":-0.59},{"x":2656,"y":-0.98},{"x":2657,"y":-0.84},{"x":2658,"y":-0.25},{"x":2659,"y":0.48},{"x":2660,"y":0.95},{"x":2661,"y":0.9},{"x":2662,"y":0.37},{"x":2663,"y":-0.37},{"x":2664,"y":-0.9},{"x":2665,"y":-0.95},{"x":2666,"y":-0.48},{"x":2667,"y":0.25},{"x":2668,"y":0.84},{"x":2669,"y":0.98},{"x":2670,"y":0.59},{"x":2671,"y":-0.13},{"x":2672,"y":-0.77},{"x":2673,"y":-1},{"x":2674,"y":-0.68},
{"x":2675,"y":0},{"x":2676,"y":0.68},{"x":2677,"y":1},{"x":2678,"y":0.77},{"x":2679,"y":0.13},{"x":2680,"y":-0.59},{"x":2681,"y":-0.98},{"x":2682,"y":-0.84},{"x":2683,"y":-0.25},{"x":2684,"y":0.48},{"x":2685,"y":0.95},{"x":2686,"y":0.9},{"x":2687,"y":0.37},{"x":2688,"y":-0.37},{"x":2689,"y":-0.9},{"x":2690,"y":-0.95},{"x":2691,"y":-0.48},{"x":2692,"y":0.25},{"x":2693,"y":0.84},{"x":2694,"y":0.98},{"x":2695,"y":0.59},{"x":2696,"y":-0.13},{"x":2697,"y":-0.77},{"x":2698,"y":-1},{"x":2699,"y":-0.68},
{"x":2700,"y":0},{"x":2701,"y":0.68},{"x":2702,"y":1},{"x":2703,"y":0.77},{"x":2704,"y":0.13},{"x":2705,"y":-0.59},{"x":2706,"y":-0.98},{"x":2707,"y":-0.84},{"x":2708,"y":-0.25},{"x":2709,"y":0.48},{"x":2710,"y":0.95},{"x":2711,"y":0.9},{"x":2712,"y":0.37},{"x":2713,"y":-0.37},{"x":2714,"y":-0.9},{"x":2715,"y":-0.95},{"x":2716,"y":-0.48},{"x":2717,"y":0.25},{"x":2718,"y":0.84},{"x":2719,"y":0.98},{"x":2720,"y":0.59},{"x":2721,"y":-0.13},{"x":2722,"y":-0.77},{"x":2723,"y":-1},{"x":2724,"y":-0.68},
{"x":2725,"y":0},{"x":2726,"y":0.68},{"x":2727,"y":1},{"x":2728,"y":0.77},{"x":2729,"y":0.13},{"x":2730,"y":-0.59},{"x":2731,"y":-0.98},{"x":2732,"y":-0.84},{"x":2733,"y":-0.25},{"x":2734,"y":0.48},{"x":2735,"y":0.95},{"x":2736,"y":0.9},{"x":2737,"y":0.37},{"x":2738,"y":-0.37},{"x":2739,"y":-0.9},{"x":2740,"y":-0.95},{"x":2741,"y":-0.48},{"x":2742,"y":0.25},{"x":2743,"y":0.84},{"x":2744,"y":0.98},{"x":2745,"y":0.59},{"x":2746,"y":-0.13},{"x":2747,"y":-0.77},{"x":2748,"y":-1},{"x":2749,"y":-0.68},
{"x":2750,"y":0},{"x":2751,"y":0.68},{"x":2752,"y":1},{"x":2753,"y":0.77},{"x":2754,"y":0.13},{"x":2755,"y":-0.59},{"x":2756,"y":-0.98},{"x":2757,"y":-0.84},{"x":2758,"y":-0.25},{"x":2759,"y":0.48},{"x":2760,"y":0.95},{"x":2761,"y":0.9},{"x":2762,"y":0.37},{"x":2763,"y":-0.37},{"x":2764,"y":-0.9},{"x":2765,"y":-0.95},{"x":2766,"y":-0.48},{"x":2767,"y":0.25},{"x":2768,"y":0.84},{"x":2769,"y":0.98},{"x":2770,"y":0.59},{"x":2771,"y":-0.13},{"x":2772,"y":-0.77},{"x":2773,"y":-1},{"x":2774,"y":-0.68},
{"x":2775,"y":0},{"x":2776,"y":0.68},{"x":2777,"y":1},{"x":2778,"y":0.77},{"x":2779,"y":0.13},{"x":2780,"y":-0.59},{"x":2781,"y":-0.98},{"x":2782,"y":-0.84},{"x":2783,"y":-0.25},{"x":2784,"y":0.48},{"x":2785,"y":0.95},{"x":2786,"y":0.9},{"x":2787,"y":0.37},{"x":2788,"y":-0.37},{"x":2789,"y":-0.9},{"x":2790,"y":-0.95},{"x":2791,"y":-0.48},{"x":2792,"y":0.25},{"x":2793,"y":0.84},{"x":2794,"y":0.98},{"x":2795,"y":0.59},{"x":2796,"y":-0.13},{"x":2797,"y":-0.77},{"x":2798,"y":-1},{"x":2799,"y":-0.68},
{"x":2800,"y":0},{"x":2801,"y":0.68},{"x":2802,"y":1},{"x":2803,"y":0.77},{"x":2804,"y":0.13},{"x":2805,"y":-0.59},{"x":2806,"y":-0.98},{"x":2807,"y":-0.84},{"x":2808,"y":-0.25},{"x":2809,"y":0.48},{"x":2810,"y":0.95},{"x":2811,"y":0.9},{"x":2812,"y":0.37},{"x":2813,"y":-0.37},{"x":2814,"y":-0.9},{"x":2815,"y":-0.95},{"x":2816,"y":-0.48},{"x":2817,"y":0.25},{"x":2818,"y":0.84},{"x":2819,"y":0.98},{"x":2820,"y":0.59},{"x":2821,"y":-0.13},{"x":2822,"y":-0.77},{"x":2823,"y":-1},{"x":2824,"y":-0.68},
{"x":2825,"y":0},{"x":2826,"y":0.68},{"x":2827,"y":1},{"x":2828,"y":0.77},{"x":2829,"y":0.13},{"x":2830,"y":-0.59},{"x":2831,"y":-0.98},{"x":2832,"y":-0.84},{"x":2833,"y":-0.25},{"x":2834,"y":0.48},{"x":2835,"y":0.95},{"x":2836,"y":0.9},{"x":2837,"y":0.37},{"x":2838,"y":-0.37},{"x":2839,"y":-0.9},{"x":2840,"y":-0.95},{"x":2841,"y":-0.48},{"x":2842,"y":0.25},{"x":2843,"y":0.84},{"x":2844,"y":0.98},{"x":2845,"y":0.59},{"x":2846,"y":-0.13},{"x":2847,"y":-0.77},{"x":2848,"y":-1},{"x":2849,"y":-0.68},
{"x":2850,"y":0},{"x":2851,"y":0.68},{"x":2852,"y":1},{"x":2853,"y":0.77},{"x":2854,"y":0.13},{"x":2855,"y":-0.59},{"x":2856,"y":-0.98},{"x":2857,"y":-0.84},{"x":2858,"y":-0.25},{"x":2859,"y":0.48},{"x":2860,"y":0.95},{"x":2861,"y":0.9},{"x":2862,"y":0.37},{"x":2863,"y":-0.37},{"x":2864,"y":-0.9},{"x":2865,"y":-0.95},{"x":2866,"y":-0.48},{"x":2867,"y":0.25},{"x":2868,"y":0.84},{"x":2869,"y":0.98},{"x":2870,"y":0.59},{"x":2871,"y":-0.13},{"x":2872,"y":-0.77},{"x":2873,"y":-1},{"x":2874,"y":-0.68},
{"x":2875,"y":0},{"x":2876,"y":0.68},{"x":2877,"y":1},{"x":2878,"y":0.77},{"x":2879,"y":0.13},{"x":2880,"y":-0.59},{"x":2881,"y":-0.98},{"x":2882,"y":-0.84},{"x":2883,"y":-0.25},{"x":2884,"y":0.48},{"x":2885,"y":0.95},{"x":2886,"y":0.9},{"x":2887,"y":0.37},{"x":2888,"y":-0.37},{"x":2889,"y":-0.9},{"x":2890,"y":-0.95},{"x":2891,"y":-0.48},{"x":2892,"y":0.25},{"x":2893,"y":0.84},{"x":2894,"y":0.98},{"x":2895,"y":0.59},{"x":2896,"y":-0.13},{"x":2897,"y":-0.77},{"x":2898,"y":-1},{"x":2899,"y":-0.68},
{"x":2900,"y":0},{"x":2901,"y":0.68},{"x":2902,"y":1},{"x":2903,"y":0.77},{"x":2904,"y":0.13},{"x":2905,"y":-0.59},{"x":2906,"y":-0.98},{"x":2907,"y":-0.84},{"x":2908,"y":-0.25},{"x":2909,"y":0.48},{"x":2910,"y":0.95},{"x":2911,"y":0.9},{"x":2912,"y":0.37},{"x":2913,"y":-0.37},{"x":2914,"y":-0.9},{"x":2915,"y":-0.95},{"x":2916,"y":-0.48},{"x":2917,"y":0.25},{"x":2918,"y":0.84},{"x":2919,"y":0.98},{"x":2920,"y":0.59},{"x":2921,"y":-0.13},{"x":2922,"y":-0.77},{"x":2923,"y":-1},{"x":2924,"y":-0.68},
{"x":2925,"y":0},{"x":2926,"y":0.68},{"x":2927,"y":1},{"x":2928,"y":0.77},{"x":2929,"y":0.13},{"x":2930,"y":-0.59},{"x":2931,"y":-0.98},{"x":2932,"y":-0.84},{"x":2933,"y":-0.25},{"x":2934,"y":0.48},{"x":2935,"y":0.95},{"x":2936,"y":0.9},{"x":2937,"y":0.37},{"x":2938,"y":-0.37},{"x":2939,"y":-0.9},{"x":2940,"y":-0.95},{"x":2941,"y":-0.48},{"x":2942,"y":0.25},{"x":2943,"y":0.84},{"x":2944,"y":0.98},{"x":2945,"y":0.59},{"x":2946,"y":-0.13},{"x":2947,"y":-0.77},{"x":2948,"y":-1},{"x":2949,"y":-0.68},
{"x":2950,"y":0},{"x":2951,"y":0.68},{"x":2952,"y":1},{"x":2953,"y":0.77},{"x":2954,"y":0.13},{"x":2955,"y":-0.59},{"x":2956,"y":-0.98},{"x":2957,"y":-0.84},{"x":2958,"y":-0.25},{"x":2959,"y":0.48},{"x":2960,"y":0.95},{"x":2961,"y":0.9},{"x":2962,"y":0.37},{"x":2963,"y":-0.37},{"x":2964,"y":-0.9},{"x":2965,"y":-0.95},{"x":2966,"y":-0.48},{"x":2967,"y":0.25},{"x":2968,"y":0.84},{"x":2969,"y":0.98},{"x":2970,"y":0.59},{"x":2971,"y":-0.13},{"x":2972,"y":-0.77},{"x":2973,"y":-1},{"x":2974,"y":-0.68},
{"x":2975,"y":0},{"x":2976,"y":0.68},{"x":2977,"y":1},{"x":2978,"y":0.77},{"x":2979,"y":0.13},{"x":2980,"y":-0.59},{"x":2981,"y":-0.98},{"x":2982,"y":-0.84},{"x":2983,"y":-0.25},{"x":2984,"y":0.48},{"x":2985,"y":0.95},{"x":2986,"y":0.9},{"x":2987,"y":0.37},{"x":2988,"y":-0.37},{"x":2989,"y":-0.9},{"x":2990,"y":-0.95},{"x":2991,"y":-0.48},{"x":2992,"y":0.25},{"x":2993,"y":0.84},{"x":2994,"y":0.98},{"x":2995,"y":0.59},{"x":2996,"y":-0.13},{"x":2997,"y":-0.77},{"x":2998,"y":-1},{"x":2999,"y":-0.68}
]},"mark":{"type":"line","color":"#1f77b4","strokeWidth":3.2,"strokeJoin":"round","strokeCap":"square","clip":true},"encoding":{"x":{"field":"x","type":"quantitative","scale":{"domain":[-149.95,3148.95],"nice":false,"zero":false},"axis":{"values":[0,500,1000,1500,2000,2500,3000],"format":"d","title":null,"grid":false,"domain":false,"ticks":true,"tickColor":"#000","tickWidth":1.8,"tickSize":8,"labelFont":"Noto Sans CJK SC","labelFontSize":24,"labelColor":"#000","labelPadding":7,"labelFlush":false,"labelOverlap":false}},"y":{"field":"y","type":"quantitative","scale":{"domain":[-1.1,1.1],"nice":false,"zero":false},"axis":{"values":[-1,-0.75,-0.5,-0.25,0,0.25,0.5,0.75,1],"format":".2f","title":null,"grid":false,"domain":false,"ticks":true,"tickColor":"#000","tickWidth":1.8,"tickSize":8,"labelFont":"Noto Sans CJK SC","labelFontSize":24,"labelColor":"#000","labelPadding":9.5,"labelFlush":false,"labelOverlap":false}}}}
